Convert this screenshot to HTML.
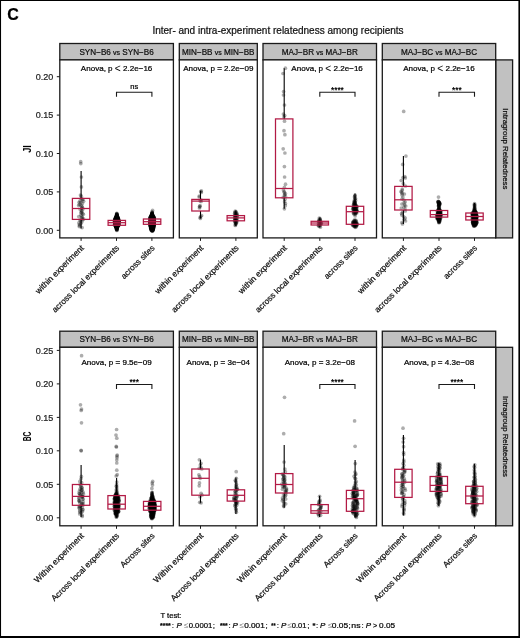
<!DOCTYPE html><html><head><meta charset="utf-8"><style>html,body{margin:0;padding:0;background:#fff;} .w{will-change:transform;}svg{display:block;} text{stroke:#000;stroke-width:0.22px;} .ng{stroke:none;} text{font-family:"Liberation Sans", sans-serif;}</style></head><body>
<div class="w"><svg width="520" height="638" viewBox="0 0 520 638">
<rect x="0" y="0" width="520" height="638" fill="#fff"/>
<text x="7.3" y="19.9" font-size="16.00" text-anchor="start" fill="#000" font-weight="bold">C</text>
<text x="278.0" y="33.9" font-size="10.00" text-anchor="middle" fill="#1a1a1a" >Inter- and intra-experiment relatedness among recipients</text>
<rect x="59.8" y="43.5" width="113.6" height="16.4" fill="#c1c1c1" stroke="#1a1a1a" stroke-width="1.3"/>
<text x="116.6" y="54.6" font-size="8.15" text-anchor="middle" fill="#1a1a1a" >SYN−B6 <tspan font-size="7">vs</tspan> SYN−B6</text>
<rect x="179.3" y="43.5" width="78.0" height="16.4" fill="#c1c1c1" stroke="#1a1a1a" stroke-width="1.3"/>
<text x="218.3" y="54.6" font-size="8.15" text-anchor="middle" fill="#1a1a1a" >MIN−BB <tspan font-size="7">vs</tspan> MIN−BB</text>
<rect x="263.0" y="43.5" width="113.5" height="16.4" fill="#c1c1c1" stroke="#1a1a1a" stroke-width="1.3"/>
<text x="319.8" y="54.6" font-size="8.15" text-anchor="middle" fill="#1a1a1a" >MAJ−BR <tspan font-size="7">vs</tspan> MAJ−BR</text>
<rect x="382.3" y="43.5" width="113.4" height="16.4" fill="#c1c1c1" stroke="#1a1a1a" stroke-width="1.3"/>
<text x="439.0" y="54.6" font-size="8.15" text-anchor="middle" fill="#1a1a1a" >MAJ−BC <tspan font-size="7">vs</tspan> MAJ−BC</text>
<rect x="495.7" y="59.9" width="16.9" height="178.0" fill="#c1c1c1" stroke="#1a1a1a" stroke-width="1.3"/>
<text x="0" y="0" font-size="7.8" text-anchor="middle" fill="#1a1a1a" transform="translate(502.8 148.9) rotate(90)">Intragroup Relatedness</text>
<rect x="59.8" y="59.9" width="113.6" height="178.0" fill="#fff"/>
<g fill="#000" fill-opacity="0.32">
<circle cx="81.3" cy="196.2" r="1.85"/>
<circle cx="82.0" cy="210.9" r="1.85"/>
<circle cx="81.4" cy="186.9" r="1.85"/>
<circle cx="78.7" cy="205.6" r="1.85"/>
<circle cx="82.1" cy="217.6" r="1.85"/>
<circle cx="80.9" cy="212.9" r="1.85"/>
<circle cx="82.4" cy="203.5" r="1.85"/>
<circle cx="81.0" cy="205.4" r="1.85"/>
<circle cx="79.3" cy="226.6" r="1.85"/>
<circle cx="82.9" cy="208.9" r="1.85"/>
<circle cx="80.0" cy="220.1" r="1.85"/>
<circle cx="82.4" cy="207.4" r="1.85"/>
<circle cx="82.3" cy="199.9" r="1.85"/>
<circle cx="79.6" cy="224.4" r="1.85"/>
<circle cx="80.2" cy="209.6" r="1.85"/>
<circle cx="79.1" cy="202.3" r="1.85"/>
<circle cx="80.9" cy="223.6" r="1.85"/>
<circle cx="82.7" cy="213.6" r="1.85"/>
<circle cx="81.9" cy="206.4" r="1.85"/>
<circle cx="81.4" cy="177.0" r="1.85"/>
<circle cx="80.7" cy="161.7" r="1.85"/>
<circle cx="81.8" cy="218.3" r="1.85"/>
<circle cx="80.5" cy="220.9" r="1.85"/>
<circle cx="82.7" cy="219.7" r="1.85"/>
<circle cx="82.1" cy="227.6" r="1.85"/>
<circle cx="80.5" cy="195.1" r="1.85"/>
<circle cx="81.2" cy="198.6" r="1.85"/>
<circle cx="80.0" cy="200.9" r="1.85"/>
<circle cx="79.3" cy="204.4" r="1.85"/>
<circle cx="79.5" cy="225.6" r="1.85"/>
<circle cx="81.5" cy="211.0" r="1.85"/>
<circle cx="81.5" cy="212.5" r="1.85"/>
<circle cx="81.0" cy="215.2" r="1.85"/>
<circle cx="78.8" cy="222.9" r="1.85"/>
<circle cx="81.9" cy="216.3" r="1.85"/>
<circle cx="83.6" cy="201.3" r="1.85"/>
<circle cx="81.5" cy="208.4" r="1.85"/>
<circle cx="81.9" cy="221.8" r="1.85"/>
<circle cx="80.8" cy="163.6" r="1.85"/>
<circle cx="78.8" cy="216.6" r="1.85"/>
<circle cx="80.7" cy="202.7" r="1.85"/>
<circle cx="82.9" cy="199.4" r="1.85"/>
<circle cx="83.6" cy="218.9" r="1.85"/>
<circle cx="83.3" cy="214.3" r="1.85"/>
</g>
<path d="M81.1 171.0V198.4M81.1 219.4V228.5" stroke="#000" stroke-width="1.10" fill="none"/>
<rect x="72.4" y="198.4" width="17.4" height="21.0" fill="none" stroke="#b21a45" stroke-width="1.25"/>
<path d="M72.4 208.5H89.8" stroke="#b21a45" stroke-width="1.25"/>
<g fill="#000" fill-opacity="0.32">
<circle cx="116.5" cy="227.8" r="1.85"/>
<circle cx="117.5" cy="218.0" r="1.85"/>
<circle cx="115.8" cy="221.8" r="1.85"/>
<circle cx="116.5" cy="219.8" r="1.85"/>
<circle cx="115.1" cy="219.5" r="1.85"/>
<circle cx="118.5" cy="220.0" r="1.85"/>
<circle cx="116.6" cy="215.8" r="1.85"/>
<circle cx="118.7" cy="220.8" r="1.85"/>
<circle cx="116.7" cy="219.5" r="1.85"/>
<circle cx="115.9" cy="225.1" r="1.85"/>
<circle cx="117.6" cy="226.1" r="1.85"/>
<circle cx="116.9" cy="228.6" r="1.85"/>
<circle cx="116.8" cy="220.2" r="1.85"/>
<circle cx="118.0" cy="219.7" r="1.85"/>
<circle cx="117.1" cy="221.3" r="1.85"/>
<circle cx="117.1" cy="219.9" r="1.85"/>
<circle cx="117.0" cy="219.2" r="1.85"/>
<circle cx="117.2" cy="225.6" r="1.85"/>
<circle cx="115.7" cy="224.1" r="1.85"/>
<circle cx="117.7" cy="223.1" r="1.85"/>
<circle cx="117.4" cy="216.6" r="1.85"/>
<circle cx="115.0" cy="223.9" r="1.85"/>
<circle cx="118.2" cy="218.9" r="1.85"/>
<circle cx="119.0" cy="221.8" r="1.85"/>
<circle cx="116.7" cy="220.9" r="1.85"/>
<circle cx="116.2" cy="222.3" r="1.85"/>
<circle cx="116.1" cy="226.3" r="1.85"/>
<circle cx="114.9" cy="223.6" r="1.85"/>
<circle cx="116.8" cy="215.7" r="1.85"/>
<circle cx="115.3" cy="225.1" r="1.85"/>
<circle cx="115.2" cy="221.0" r="1.85"/>
<circle cx="116.2" cy="222.2" r="1.85"/>
<circle cx="116.9" cy="221.9" r="1.85"/>
<circle cx="116.5" cy="223.5" r="1.85"/>
<circle cx="117.4" cy="216.6" r="1.85"/>
<circle cx="115.5" cy="218.3" r="1.85"/>
<circle cx="116.7" cy="219.1" r="1.85"/>
<circle cx="115.4" cy="222.6" r="1.85"/>
<circle cx="116.6" cy="218.6" r="1.85"/>
<circle cx="115.7" cy="225.1" r="1.85"/>
<circle cx="116.8" cy="214.4" r="1.85"/>
<circle cx="116.2" cy="224.2" r="1.85"/>
<circle cx="116.3" cy="217.8" r="1.85"/>
<circle cx="116.6" cy="224.0" r="1.85"/>
<circle cx="117.9" cy="220.2" r="1.85"/>
<circle cx="118.2" cy="224.2" r="1.85"/>
<circle cx="116.4" cy="217.8" r="1.85"/>
<circle cx="117.6" cy="218.3" r="1.85"/>
<circle cx="118.3" cy="223.4" r="1.85"/>
<circle cx="115.0" cy="221.5" r="1.85"/>
<circle cx="116.6" cy="219.7" r="1.85"/>
<circle cx="116.4" cy="225.4" r="1.85"/>
<circle cx="118.0" cy="225.2" r="1.85"/>
<circle cx="115.0" cy="223.5" r="1.85"/>
<circle cx="115.7" cy="221.6" r="1.85"/>
<circle cx="117.8" cy="223.4" r="1.85"/>
<circle cx="116.8" cy="228.0" r="1.85"/>
<circle cx="116.5" cy="217.2" r="1.85"/>
<circle cx="116.5" cy="229.0" r="1.85"/>
<circle cx="114.9" cy="221.2" r="1.85"/>
<circle cx="117.1" cy="223.7" r="1.85"/>
<circle cx="114.9" cy="222.5" r="1.85"/>
<circle cx="116.9" cy="226.8" r="1.85"/>
<circle cx="116.6" cy="229.5" r="1.85"/>
<circle cx="114.8" cy="224.5" r="1.85"/>
<circle cx="116.6" cy="216.9" r="1.85"/>
<circle cx="116.9" cy="223.4" r="1.85"/>
<circle cx="116.8" cy="225.3" r="1.85"/>
<circle cx="117.3" cy="227.4" r="1.85"/>
<circle cx="117.0" cy="219.8" r="1.85"/>
<circle cx="118.6" cy="222.8" r="1.85"/>
<circle cx="116.3" cy="220.1" r="1.85"/>
<circle cx="116.5" cy="225.5" r="1.85"/>
<circle cx="117.7" cy="223.1" r="1.85"/>
<circle cx="115.6" cy="221.0" r="1.85"/>
<circle cx="116.4" cy="228.5" r="1.85"/>
<circle cx="118.3" cy="224.7" r="1.85"/>
<circle cx="116.4" cy="227.2" r="1.85"/>
<circle cx="118.0" cy="225.9" r="1.85"/>
<circle cx="117.6" cy="224.5" r="1.85"/>
<circle cx="118.2" cy="224.9" r="1.85"/>
<circle cx="116.5" cy="221.5" r="1.85"/>
<circle cx="118.4" cy="225.8" r="1.85"/>
<circle cx="116.6" cy="220.9" r="1.85"/>
<circle cx="117.5" cy="223.3" r="1.85"/>
<circle cx="116.5" cy="228.1" r="1.85"/>
<circle cx="118.5" cy="223.6" r="1.85"/>
<circle cx="118.3" cy="219.1" r="1.85"/>
<circle cx="116.6" cy="216.1" r="1.85"/>
<circle cx="117.4" cy="225.4" r="1.85"/>
<circle cx="118.0" cy="223.8" r="1.85"/>
<circle cx="116.5" cy="220.6" r="1.85"/>
<circle cx="116.5" cy="218.2" r="1.85"/>
<circle cx="116.1" cy="224.4" r="1.85"/>
<circle cx="116.4" cy="219.3" r="1.85"/>
<circle cx="117.0" cy="217.0" r="1.85"/>
<circle cx="115.5" cy="225.5" r="1.85"/>
<circle cx="115.9" cy="221.6" r="1.85"/>
<circle cx="116.8" cy="220.8" r="1.85"/>
<circle cx="117.0" cy="221.7" r="1.85"/>
<circle cx="116.0" cy="220.5" r="1.85"/>
<circle cx="118.8" cy="221.6" r="1.85"/>
<circle cx="116.5" cy="225.7" r="1.85"/>
<circle cx="117.8" cy="224.8" r="1.85"/>
<circle cx="115.1" cy="220.6" r="1.85"/>
<circle cx="118.9" cy="220.7" r="1.85"/>
<circle cx="116.2" cy="226.2" r="1.85"/>
<circle cx="116.0" cy="218.0" r="1.85"/>
<circle cx="114.9" cy="223.6" r="1.85"/>
<circle cx="118.4" cy="218.6" r="1.85"/>
<circle cx="117.9" cy="224.5" r="1.85"/>
<circle cx="115.7" cy="225.8" r="1.85"/>
<circle cx="114.8" cy="222.9" r="1.85"/>
<circle cx="115.0" cy="220.4" r="1.85"/>
<circle cx="118.0" cy="220.7" r="1.85"/>
<circle cx="115.8" cy="225.7" r="1.85"/>
<circle cx="117.5" cy="220.5" r="1.85"/>
<circle cx="118.8" cy="224.7" r="1.85"/>
<circle cx="116.7" cy="214.0" r="1.85"/>
<circle cx="117.0" cy="214.7" r="1.85"/>
<circle cx="116.9" cy="221.4" r="1.85"/>
<circle cx="117.0" cy="218.9" r="1.85"/>
<circle cx="116.2" cy="224.4" r="1.85"/>
<circle cx="117.9" cy="218.3" r="1.85"/>
<circle cx="116.9" cy="227.6" r="1.85"/>
<circle cx="116.1" cy="226.6" r="1.85"/>
<circle cx="118.2" cy="223.8" r="1.85"/>
<circle cx="117.7" cy="223.9" r="1.85"/>
<circle cx="116.1" cy="219.7" r="1.85"/>
<circle cx="116.0" cy="223.4" r="1.85"/>
<circle cx="116.7" cy="225.4" r="1.85"/>
<circle cx="116.6" cy="217.3" r="1.85"/>
<circle cx="117.9" cy="224.0" r="1.85"/>
<circle cx="116.8" cy="215.1" r="1.85"/>
<circle cx="116.8" cy="213.3" r="1.85"/>
<circle cx="117.2" cy="223.0" r="1.85"/>
<circle cx="117.1" cy="227.7" r="1.85"/>
<circle cx="115.0" cy="221.1" r="1.85"/>
<circle cx="118.6" cy="220.4" r="1.85"/>
<circle cx="117.8" cy="218.8" r="1.85"/>
<circle cx="115.1" cy="221.3" r="1.85"/>
<circle cx="118.7" cy="225.0" r="1.85"/>
<circle cx="117.6" cy="226.1" r="1.85"/>
<circle cx="116.7" cy="225.9" r="1.85"/>
<circle cx="117.2" cy="222.9" r="1.85"/>
<circle cx="115.4" cy="219.1" r="1.85"/>
<circle cx="114.6" cy="225.0" r="1.85"/>
<circle cx="117.6" cy="217.3" r="1.85"/>
<circle cx="118.7" cy="220.8" r="1.85"/>
<circle cx="117.0" cy="229.4" r="1.85"/>
<circle cx="115.1" cy="223.2" r="1.85"/>
<circle cx="117.8" cy="221.4" r="1.85"/>
<circle cx="116.7" cy="224.0" r="1.85"/>
<circle cx="116.3" cy="226.7" r="1.85"/>
<circle cx="118.2" cy="220.6" r="1.85"/>
<circle cx="114.9" cy="222.1" r="1.85"/>
<circle cx="118.5" cy="225.7" r="1.85"/>
<circle cx="116.9" cy="220.9" r="1.85"/>
<circle cx="116.3" cy="220.5" r="1.85"/>
<circle cx="118.2" cy="220.7" r="1.85"/>
<circle cx="118.2" cy="219.9" r="1.85"/>
<circle cx="115.8" cy="219.3" r="1.85"/>
<circle cx="118.0" cy="221.5" r="1.85"/>
<circle cx="117.0" cy="215.6" r="1.85"/>
<circle cx="116.5" cy="220.5" r="1.85"/>
<circle cx="116.4" cy="216.9" r="1.85"/>
<circle cx="116.3" cy="226.7" r="1.85"/>
<circle cx="117.3" cy="217.6" r="1.85"/>
<circle cx="116.4" cy="225.3" r="1.85"/>
<circle cx="115.6" cy="225.9" r="1.85"/>
<circle cx="117.8" cy="218.7" r="1.85"/>
<circle cx="116.6" cy="223.1" r="1.85"/>
<circle cx="117.2" cy="217.5" r="1.85"/>
<circle cx="118.2" cy="219.6" r="1.85"/>
<circle cx="116.4" cy="227.9" r="1.85"/>
<circle cx="116.5" cy="217.9" r="1.85"/>
<circle cx="116.0" cy="227.0" r="1.85"/>
<circle cx="116.4" cy="219.4" r="1.85"/>
<circle cx="118.5" cy="219.0" r="1.85"/>
<circle cx="116.3" cy="227.6" r="1.85"/>
<circle cx="116.7" cy="222.8" r="1.85"/>
<circle cx="115.4" cy="222.1" r="1.85"/>
<circle cx="115.6" cy="218.5" r="1.85"/>
<circle cx="118.1" cy="221.0" r="1.85"/>
<circle cx="115.4" cy="218.0" r="1.85"/>
<circle cx="115.8" cy="220.1" r="1.85"/>
<circle cx="116.9" cy="220.3" r="1.85"/>
<circle cx="117.3" cy="218.5" r="1.85"/>
<circle cx="116.8" cy="217.3" r="1.85"/>
<circle cx="115.5" cy="220.0" r="1.85"/>
<circle cx="116.2" cy="218.6" r="1.85"/>
<circle cx="116.6" cy="222.6" r="1.85"/>
<circle cx="115.4" cy="225.6" r="1.85"/>
<circle cx="117.8" cy="217.4" r="1.85"/>
<circle cx="117.6" cy="225.1" r="1.85"/>
<circle cx="117.5" cy="222.1" r="1.85"/>
<circle cx="114.8" cy="224.2" r="1.85"/>
<circle cx="115.4" cy="219.2" r="1.85"/>
<circle cx="115.9" cy="226.6" r="1.85"/>
<circle cx="115.5" cy="218.1" r="1.85"/>
<circle cx="114.8" cy="222.9" r="1.85"/>
<circle cx="115.4" cy="221.6" r="1.85"/>
<circle cx="116.6" cy="217.5" r="1.85"/>
<circle cx="116.5" cy="218.7" r="1.85"/>
<circle cx="117.1" cy="220.2" r="1.85"/>
<circle cx="117.4" cy="224.1" r="1.85"/>
<circle cx="116.4" cy="217.9" r="1.85"/>
<circle cx="117.2" cy="216.8" r="1.85"/>
<circle cx="116.9" cy="228.1" r="1.85"/>
<circle cx="118.1" cy="221.7" r="1.85"/>
<circle cx="116.4" cy="223.0" r="1.85"/>
<circle cx="116.6" cy="224.2" r="1.85"/>
<circle cx="116.9" cy="228.7" r="1.85"/>
<circle cx="116.6" cy="214.8" r="1.85"/>
<circle cx="117.2" cy="225.3" r="1.85"/>
<circle cx="116.6" cy="226.4" r="1.85"/>
<circle cx="116.8" cy="230.5" r="1.85"/>
<circle cx="115.7" cy="219.4" r="1.85"/>
<circle cx="115.3" cy="223.3" r="1.85"/>
<circle cx="118.5" cy="222.1" r="1.85"/>
<circle cx="117.2" cy="215.6" r="1.85"/>
<circle cx="116.8" cy="216.3" r="1.85"/>
<circle cx="115.4" cy="224.3" r="1.85"/>
<circle cx="115.6" cy="221.9" r="1.85"/>
<circle cx="118.3" cy="225.2" r="1.85"/>
<circle cx="117.2" cy="224.6" r="1.85"/>
<circle cx="114.7" cy="221.9" r="1.85"/>
<circle cx="118.8" cy="224.4" r="1.85"/>
<circle cx="116.4" cy="217.1" r="1.85"/>
<circle cx="114.6" cy="221.3" r="1.85"/>
<circle cx="116.0" cy="223.2" r="1.85"/>
<circle cx="116.7" cy="215.3" r="1.85"/>
<circle cx="117.4" cy="221.4" r="1.85"/>
<circle cx="118.4" cy="220.4" r="1.85"/>
<circle cx="118.1" cy="220.4" r="1.85"/>
<circle cx="118.1" cy="224.9" r="1.85"/>
<circle cx="118.3" cy="222.5" r="1.85"/>
<circle cx="116.6" cy="216.5" r="1.85"/>
<circle cx="115.0" cy="224.8" r="1.85"/>
<circle cx="115.7" cy="219.8" r="1.85"/>
<circle cx="116.0" cy="224.0" r="1.85"/>
<circle cx="117.0" cy="228.3" r="1.85"/>
<circle cx="116.8" cy="216.0" r="1.85"/>
<circle cx="116.8" cy="225.0" r="1.85"/>
<circle cx="116.8" cy="219.6" r="1.85"/>
<circle cx="115.5" cy="220.1" r="1.85"/>
<circle cx="118.0" cy="224.8" r="1.85"/>
<circle cx="116.6" cy="229.2" r="1.85"/>
<circle cx="115.0" cy="222.7" r="1.85"/>
<circle cx="114.6" cy="220.0" r="1.85"/>
<circle cx="117.4" cy="227.1" r="1.85"/>
<circle cx="118.2" cy="224.7" r="1.85"/>
<circle cx="118.4" cy="221.1" r="1.85"/>
<circle cx="115.6" cy="222.2" r="1.85"/>
<circle cx="116.2" cy="219.9" r="1.85"/>
<circle cx="117.9" cy="220.1" r="1.85"/>
<circle cx="116.7" cy="223.4" r="1.85"/>
<circle cx="118.0" cy="223.7" r="1.85"/>
<circle cx="116.8" cy="213.7" r="1.85"/>
<circle cx="116.8" cy="215.4" r="1.85"/>
<circle cx="115.9" cy="219.3" r="1.85"/>
<circle cx="114.7" cy="223.0" r="1.85"/>
<circle cx="115.4" cy="223.9" r="1.85"/>
<circle cx="115.4" cy="223.1" r="1.85"/>
<circle cx="116.4" cy="222.0" r="1.85"/>
<circle cx="114.8" cy="224.3" r="1.85"/>
<circle cx="118.6" cy="222.8" r="1.85"/>
<circle cx="117.6" cy="220.3" r="1.85"/>
<circle cx="116.7" cy="226.9" r="1.85"/>
<circle cx="117.4" cy="222.7" r="1.85"/>
<circle cx="118.3" cy="221.1" r="1.85"/>
<circle cx="114.9" cy="223.2" r="1.85"/>
<circle cx="117.7" cy="222.3" r="1.85"/>
<circle cx="118.1" cy="218.3" r="1.85"/>
<circle cx="114.7" cy="221.4" r="1.85"/>
<circle cx="116.3" cy="216.2" r="1.85"/>
<circle cx="114.9" cy="224.7" r="1.85"/>
<circle cx="117.6" cy="219.5" r="1.85"/>
<circle cx="116.2" cy="220.3" r="1.85"/>
<circle cx="116.4" cy="218.8" r="1.85"/>
<circle cx="116.1" cy="218.4" r="1.85"/>
<circle cx="118.3" cy="221.8" r="1.85"/>
<circle cx="116.6" cy="225.2" r="1.85"/>
<circle cx="116.2" cy="226.2" r="1.85"/>
<circle cx="117.4" cy="224.1" r="1.85"/>
<circle cx="115.9" cy="222.4" r="1.85"/>
<circle cx="117.4" cy="216.3" r="1.85"/>
<circle cx="115.3" cy="219.8" r="1.85"/>
<circle cx="117.8" cy="219.3" r="1.85"/>
<circle cx="119.0" cy="223.5" r="1.85"/>
<circle cx="116.0" cy="226.4" r="1.85"/>
<circle cx="116.9" cy="226.0" r="1.85"/>
<circle cx="116.0" cy="219.9" r="1.85"/>
<circle cx="115.5" cy="225.4" r="1.85"/>
<circle cx="116.6" cy="217.6" r="1.85"/>
<circle cx="116.8" cy="222.3" r="1.85"/>
<circle cx="116.1" cy="216.8" r="1.85"/>
<circle cx="118.0" cy="221.2" r="1.85"/>
<circle cx="116.9" cy="228.3" r="1.85"/>
<circle cx="117.4" cy="216.4" r="1.85"/>
<circle cx="115.3" cy="218.4" r="1.85"/>
<circle cx="118.9" cy="221.0" r="1.85"/>
<circle cx="114.9" cy="219.6" r="1.85"/>
<circle cx="116.3" cy="223.7" r="1.85"/>
<circle cx="116.5" cy="222.2" r="1.85"/>
<circle cx="116.1" cy="218.1" r="1.85"/>
<circle cx="116.0" cy="217.1" r="1.85"/>
<circle cx="117.0" cy="225.5" r="1.85"/>
<circle cx="116.4" cy="224.1" r="1.85"/>
<circle cx="116.5" cy="219.0" r="1.85"/>
<circle cx="116.0" cy="227.0" r="1.85"/>
<circle cx="114.6" cy="221.7" r="1.85"/>
<circle cx="115.1" cy="218.8" r="1.85"/>
<circle cx="118.5" cy="219.2" r="1.85"/>
<circle cx="117.0" cy="223.9" r="1.85"/>
<circle cx="117.5" cy="222.0" r="1.85"/>
<circle cx="118.7" cy="224.9" r="1.85"/>
<circle cx="116.5" cy="217.7" r="1.85"/>
<circle cx="116.7" cy="227.2" r="1.85"/>
<circle cx="117.8" cy="218.7" r="1.85"/>
<circle cx="117.8" cy="224.6" r="1.85"/>
<circle cx="116.9" cy="229.8" r="1.85"/>
<circle cx="116.7" cy="214.9" r="1.85"/>
<circle cx="117.3" cy="218.5" r="1.85"/>
<circle cx="116.6" cy="227.3" r="1.85"/>
<circle cx="115.4" cy="223.3" r="1.85"/>
<circle cx="116.3" cy="226.5" r="1.85"/>
<circle cx="115.2" cy="224.9" r="1.85"/>
<circle cx="116.2" cy="226.3" r="1.85"/>
<circle cx="116.5" cy="227.5" r="1.85"/>
<circle cx="117.9" cy="218.2" r="1.85"/>
<circle cx="117.3" cy="222.8" r="1.85"/>
<circle cx="115.2" cy="219.0" r="1.85"/>
<circle cx="118.7" cy="222.9" r="1.85"/>
<circle cx="116.8" cy="214.2" r="1.85"/>
<circle cx="116.7" cy="228.8" r="1.85"/>
<circle cx="116.8" cy="222.5" r="1.85"/>
<circle cx="117.8" cy="222.3" r="1.85"/>
<circle cx="117.4" cy="219.5" r="1.85"/>
<circle cx="117.6" cy="226.0" r="1.85"/>
<circle cx="117.0" cy="221.9" r="1.85"/>
<circle cx="116.9" cy="215.1" r="1.85"/>
<circle cx="116.1" cy="226.9" r="1.85"/>
<circle cx="115.7" cy="222.7" r="1.85"/>
<circle cx="116.0" cy="221.8" r="1.85"/>
<circle cx="116.6" cy="224.8" r="1.85"/>
<circle cx="116.7" cy="229.1" r="1.85"/>
<circle cx="116.2" cy="216.7" r="1.85"/>
<circle cx="118.5" cy="222.7" r="1.85"/>
<circle cx="117.7" cy="221.1" r="1.85"/>
<circle cx="117.7" cy="226.5" r="1.85"/>
<circle cx="114.9" cy="220.8" r="1.85"/>
<circle cx="116.9" cy="230.0" r="1.85"/>
<circle cx="118.9" cy="220.6" r="1.85"/>
<circle cx="114.6" cy="222.4" r="1.85"/>
<circle cx="117.3" cy="219.0" r="1.85"/>
<circle cx="116.2" cy="226.2" r="1.85"/>
<circle cx="115.8" cy="217.7" r="1.85"/>
<circle cx="117.3" cy="224.4" r="1.85"/>
<circle cx="116.0" cy="225.9" r="1.85"/>
<circle cx="115.7" cy="218.9" r="1.85"/>
<circle cx="115.9" cy="224.6" r="1.85"/>
<circle cx="116.2" cy="226.5" r="1.85"/>
<circle cx="116.3" cy="222.4" r="1.85"/>
<circle cx="118.0" cy="217.9" r="1.85"/>
<circle cx="115.5" cy="222.5" r="1.85"/>
<circle cx="117.0" cy="217.0" r="1.85"/>
<circle cx="116.4" cy="223.6" r="1.85"/>
<circle cx="118.7" cy="224.5" r="1.85"/>
<circle cx="115.9" cy="223.8" r="1.85"/>
<circle cx="116.4" cy="215.9" r="1.85"/>
<circle cx="117.0" cy="219.6" r="1.85"/>
<circle cx="116.0" cy="217.4" r="1.85"/>
<circle cx="118.6" cy="221.2" r="1.85"/>
<circle cx="115.3" cy="225.6" r="1.85"/>
<circle cx="117.5" cy="219.4" r="1.85"/>
<circle cx="114.8" cy="222.0" r="1.85"/>
<circle cx="117.1" cy="226.9" r="1.85"/>
<circle cx="118.0" cy="222.6" r="1.85"/>
<circle cx="118.9" cy="221.4" r="1.85"/>
</g>
<path d="M116.8 213.5V220.4M116.8 225.3V230.6" stroke="#000" stroke-width="1.10" fill="none"/>
<rect x="113.2" y="220.4" width="7.2" height="4.9" fill="#b21a45" fill-opacity="0.55"/>
<rect x="108.1" y="220.4" width="17.4" height="4.9" fill="none" stroke="#b21a45" stroke-width="1.25"/>
<path d="M108.1 222.7H125.5" stroke="#b21a45" stroke-width="1.25"/>
<g fill="#000" fill-opacity="0.32">
<circle cx="151.5" cy="223.8" r="1.85"/>
<circle cx="151.1" cy="226.1" r="1.85"/>
<circle cx="151.9" cy="214.9" r="1.85"/>
<circle cx="151.6" cy="218.6" r="1.85"/>
<circle cx="152.3" cy="220.8" r="1.85"/>
<circle cx="152.5" cy="229.8" r="1.85"/>
<circle cx="150.8" cy="222.5" r="1.85"/>
<circle cx="154.2" cy="220.6" r="1.85"/>
<circle cx="153.4" cy="220.3" r="1.85"/>
<circle cx="151.6" cy="216.2" r="1.85"/>
<circle cx="152.4" cy="222.6" r="1.85"/>
<circle cx="150.0" cy="222.3" r="1.85"/>
<circle cx="150.4" cy="217.3" r="1.85"/>
<circle cx="154.0" cy="222.7" r="1.85"/>
<circle cx="151.4" cy="215.7" r="1.85"/>
<circle cx="153.8" cy="217.4" r="1.85"/>
<circle cx="150.6" cy="220.2" r="1.85"/>
<circle cx="153.7" cy="222.0" r="1.85"/>
<circle cx="150.1" cy="218.4" r="1.85"/>
<circle cx="150.3" cy="221.8" r="1.85"/>
<circle cx="151.5" cy="224.7" r="1.85"/>
<circle cx="153.3" cy="224.3" r="1.85"/>
<circle cx="151.1" cy="227.0" r="1.85"/>
<circle cx="154.2" cy="219.0" r="1.85"/>
<circle cx="151.9" cy="219.3" r="1.85"/>
<circle cx="153.4" cy="220.9" r="1.85"/>
<circle cx="151.4" cy="223.0" r="1.85"/>
<circle cx="151.5" cy="222.2" r="1.85"/>
<circle cx="151.2" cy="218.1" r="1.85"/>
<circle cx="152.2" cy="221.5" r="1.85"/>
<circle cx="151.9" cy="227.4" r="1.85"/>
<circle cx="152.5" cy="219.6" r="1.85"/>
<circle cx="152.2" cy="211.9" r="1.85"/>
<circle cx="151.8" cy="230.1" r="1.85"/>
<circle cx="152.3" cy="212.8" r="1.85"/>
<circle cx="153.0" cy="228.9" r="1.85"/>
<circle cx="152.3" cy="229.9" r="1.85"/>
<circle cx="153.1" cy="216.3" r="1.85"/>
<circle cx="152.0" cy="219.2" r="1.85"/>
<circle cx="152.4" cy="218.2" r="1.85"/>
<circle cx="152.6" cy="228.5" r="1.85"/>
<circle cx="152.4" cy="230.7" r="1.85"/>
<circle cx="151.0" cy="227.9" r="1.85"/>
<circle cx="152.3" cy="231.0" r="1.85"/>
<circle cx="150.5" cy="217.0" r="1.85"/>
<circle cx="152.3" cy="221.3" r="1.85"/>
<circle cx="149.9" cy="224.5" r="1.85"/>
<circle cx="151.2" cy="229.5" r="1.85"/>
<circle cx="151.9" cy="227.6" r="1.85"/>
<circle cx="151.1" cy="219.3" r="1.85"/>
<circle cx="152.1" cy="227.4" r="1.85"/>
<circle cx="152.5" cy="218.6" r="1.85"/>
<circle cx="150.0" cy="223.1" r="1.85"/>
<circle cx="153.9" cy="225.5" r="1.85"/>
<circle cx="151.2" cy="228.6" r="1.85"/>
<circle cx="151.5" cy="223.2" r="1.85"/>
<circle cx="154.3" cy="217.6" r="1.85"/>
<circle cx="152.1" cy="220.7" r="1.85"/>
<circle cx="153.2" cy="228.9" r="1.85"/>
<circle cx="150.5" cy="218.1" r="1.85"/>
<circle cx="152.1" cy="213.3" r="1.85"/>
<circle cx="151.3" cy="225.7" r="1.85"/>
<circle cx="150.6" cy="225.1" r="1.85"/>
<circle cx="153.1" cy="216.8" r="1.85"/>
<circle cx="151.4" cy="215.3" r="1.85"/>
<circle cx="149.9" cy="221.3" r="1.85"/>
<circle cx="152.4" cy="228.2" r="1.85"/>
<circle cx="151.6" cy="223.0" r="1.85"/>
<circle cx="151.1" cy="222.4" r="1.85"/>
<circle cx="150.0" cy="223.1" r="1.85"/>
<circle cx="154.0" cy="217.1" r="1.85"/>
<circle cx="151.6" cy="221.3" r="1.85"/>
<circle cx="152.4" cy="215.2" r="1.85"/>
<circle cx="153.8" cy="222.5" r="1.85"/>
<circle cx="153.2" cy="224.3" r="1.85"/>
<circle cx="151.0" cy="222.0" r="1.85"/>
<circle cx="152.9" cy="217.5" r="1.85"/>
<circle cx="153.3" cy="220.0" r="1.85"/>
<circle cx="151.5" cy="228.7" r="1.85"/>
<circle cx="152.4" cy="214.4" r="1.85"/>
<circle cx="153.9" cy="223.3" r="1.85"/>
<circle cx="150.8" cy="217.6" r="1.85"/>
<circle cx="151.8" cy="213.9" r="1.85"/>
<circle cx="153.3" cy="219.2" r="1.85"/>
<circle cx="150.8" cy="221.7" r="1.85"/>
<circle cx="152.2" cy="216.7" r="1.85"/>
<circle cx="153.1" cy="226.9" r="1.85"/>
<circle cx="150.8" cy="224.5" r="1.85"/>
<circle cx="151.3" cy="222.3" r="1.85"/>
<circle cx="152.8" cy="230.0" r="1.85"/>
<circle cx="152.0" cy="217.3" r="1.85"/>
<circle cx="151.1" cy="229.3" r="1.85"/>
<circle cx="152.3" cy="226.7" r="1.85"/>
<circle cx="150.0" cy="218.4" r="1.85"/>
<circle cx="152.2" cy="228.9" r="1.85"/>
<circle cx="153.6" cy="218.8" r="1.85"/>
<circle cx="153.7" cy="217.6" r="1.85"/>
<circle cx="151.0" cy="219.9" r="1.85"/>
<circle cx="150.6" cy="223.9" r="1.85"/>
<circle cx="153.7" cy="226.0" r="1.85"/>
<circle cx="150.8" cy="221.7" r="1.85"/>
<circle cx="151.9" cy="226.4" r="1.85"/>
<circle cx="152.5" cy="221.2" r="1.85"/>
<circle cx="153.1" cy="220.9" r="1.85"/>
<circle cx="152.9" cy="228.4" r="1.85"/>
<circle cx="150.3" cy="222.4" r="1.85"/>
<circle cx="154.0" cy="221.2" r="1.85"/>
<circle cx="152.6" cy="225.3" r="1.85"/>
<circle cx="150.5" cy="225.7" r="1.85"/>
<circle cx="151.6" cy="224.8" r="1.85"/>
<circle cx="152.7" cy="217.1" r="1.85"/>
<circle cx="151.6" cy="221.1" r="1.85"/>
<circle cx="153.8" cy="219.6" r="1.85"/>
<circle cx="153.2" cy="224.5" r="1.85"/>
<circle cx="151.0" cy="225.7" r="1.85"/>
<circle cx="150.2" cy="226.2" r="1.85"/>
<circle cx="153.5" cy="219.2" r="1.85"/>
<circle cx="151.1" cy="222.7" r="1.85"/>
<circle cx="153.4" cy="216.6" r="1.85"/>
<circle cx="151.0" cy="228.1" r="1.85"/>
<circle cx="150.7" cy="228.7" r="1.85"/>
<circle cx="152.1" cy="214.2" r="1.85"/>
<circle cx="151.2" cy="215.9" r="1.85"/>
<circle cx="153.1" cy="227.6" r="1.85"/>
<circle cx="151.5" cy="225.8" r="1.85"/>
<circle cx="152.5" cy="222.6" r="1.85"/>
<circle cx="152.6" cy="222.4" r="1.85"/>
<circle cx="151.8" cy="224.6" r="1.85"/>
<circle cx="152.7" cy="223.4" r="1.85"/>
<circle cx="151.8" cy="216.8" r="1.85"/>
<circle cx="153.2" cy="218.0" r="1.85"/>
<circle cx="151.4" cy="219.4" r="1.85"/>
<circle cx="153.7" cy="223.8" r="1.85"/>
<circle cx="151.6" cy="220.9" r="1.85"/>
<circle cx="150.1" cy="221.4" r="1.85"/>
<circle cx="152.6" cy="227.4" r="1.85"/>
<circle cx="150.4" cy="222.9" r="1.85"/>
<circle cx="151.1" cy="220.2" r="1.85"/>
<circle cx="153.1" cy="218.9" r="1.85"/>
<circle cx="153.3" cy="228.3" r="1.85"/>
<circle cx="154.0" cy="217.9" r="1.85"/>
<circle cx="151.0" cy="221.6" r="1.85"/>
<circle cx="152.0" cy="224.3" r="1.85"/>
<circle cx="153.2" cy="226.6" r="1.85"/>
<circle cx="153.1" cy="225.9" r="1.85"/>
<circle cx="152.6" cy="218.8" r="1.85"/>
<circle cx="151.9" cy="215.8" r="1.85"/>
<circle cx="151.4" cy="225.8" r="1.85"/>
<circle cx="151.3" cy="221.6" r="1.85"/>
<circle cx="150.7" cy="216.4" r="1.85"/>
<circle cx="152.3" cy="220.6" r="1.85"/>
<circle cx="152.5" cy="222.8" r="1.85"/>
<circle cx="150.6" cy="226.4" r="1.85"/>
<circle cx="151.9" cy="225.9" r="1.85"/>
<circle cx="150.5" cy="227.8" r="1.85"/>
<circle cx="154.0" cy="223.4" r="1.85"/>
<circle cx="151.5" cy="229.6" r="1.85"/>
<circle cx="152.0" cy="212.4" r="1.85"/>
<circle cx="151.1" cy="227.1" r="1.85"/>
<circle cx="154.1" cy="219.1" r="1.85"/>
<circle cx="153.0" cy="216.0" r="1.85"/>
<circle cx="153.0" cy="230.3" r="1.85"/>
<circle cx="150.9" cy="227.2" r="1.85"/>
<circle cx="152.3" cy="215.5" r="1.85"/>
<circle cx="151.7" cy="229.0" r="1.85"/>
<circle cx="151.0" cy="224.2" r="1.85"/>
<circle cx="153.7" cy="223.4" r="1.85"/>
<circle cx="150.1" cy="221.0" r="1.85"/>
<circle cx="150.3" cy="223.6" r="1.85"/>
<circle cx="151.8" cy="226.1" r="1.85"/>
<circle cx="151.2" cy="221.9" r="1.85"/>
<circle cx="150.1" cy="218.3" r="1.85"/>
<circle cx="150.6" cy="219.1" r="1.85"/>
<circle cx="150.6" cy="216.5" r="1.85"/>
<circle cx="151.2" cy="227.0" r="1.85"/>
<circle cx="153.9" cy="225.1" r="1.85"/>
<circle cx="152.5" cy="229.2" r="1.85"/>
<circle cx="152.6" cy="226.6" r="1.85"/>
<circle cx="151.7" cy="227.1" r="1.85"/>
<circle cx="154.0" cy="222.1" r="1.85"/>
<circle cx="153.2" cy="229.2" r="1.85"/>
<circle cx="152.9" cy="220.1" r="1.85"/>
<circle cx="152.7" cy="229.4" r="1.85"/>
<circle cx="151.6" cy="221.5" r="1.85"/>
<circle cx="152.5" cy="224.6" r="1.85"/>
<circle cx="153.8" cy="218.5" r="1.85"/>
<circle cx="154.3" cy="221.0" r="1.85"/>
<circle cx="150.3" cy="225.6" r="1.85"/>
<circle cx="153.8" cy="220.5" r="1.85"/>
<circle cx="152.3" cy="216.5" r="1.85"/>
<circle cx="153.3" cy="226.3" r="1.85"/>
<circle cx="152.1" cy="214.6" r="1.85"/>
<circle cx="150.3" cy="224.4" r="1.85"/>
<circle cx="152.4" cy="226.2" r="1.85"/>
<circle cx="151.9" cy="217.8" r="1.85"/>
<circle cx="152.0" cy="217.7" r="1.85"/>
<circle cx="154.2" cy="219.8" r="1.85"/>
<circle cx="152.9" cy="218.3" r="1.85"/>
<circle cx="154.3" cy="220.5" r="1.85"/>
<circle cx="152.1" cy="218.2" r="1.85"/>
<circle cx="153.5" cy="224.9" r="1.85"/>
<circle cx="152.4" cy="216.5" r="1.85"/>
<circle cx="152.9" cy="218.5" r="1.85"/>
<circle cx="152.1" cy="213.0" r="1.85"/>
<circle cx="152.0" cy="218.9" r="1.85"/>
<circle cx="152.6" cy="210.4" r="1.85"/>
<circle cx="151.3" cy="224.4" r="1.85"/>
<circle cx="154.1" cy="224.0" r="1.85"/>
<circle cx="151.9" cy="220.1" r="1.85"/>
<circle cx="152.5" cy="228.6" r="1.85"/>
<circle cx="152.6" cy="230.6" r="1.85"/>
<circle cx="154.0" cy="225.0" r="1.85"/>
<circle cx="154.0" cy="224.2" r="1.85"/>
<circle cx="152.0" cy="213.8" r="1.85"/>
<circle cx="153.3" cy="218.1" r="1.85"/>
<circle cx="154.3" cy="223.0" r="1.85"/>
<circle cx="153.1" cy="219.6" r="1.85"/>
<circle cx="152.6" cy="228.8" r="1.85"/>
<circle cx="150.9" cy="223.9" r="1.85"/>
<circle cx="153.0" cy="218.0" r="1.85"/>
<circle cx="150.9" cy="223.6" r="1.85"/>
<circle cx="153.5" cy="219.5" r="1.85"/>
<circle cx="151.1" cy="229.8" r="1.85"/>
<circle cx="153.4" cy="222.0" r="1.85"/>
<circle cx="150.5" cy="220.4" r="1.85"/>
<circle cx="154.1" cy="225.4" r="1.85"/>
<circle cx="151.3" cy="218.8" r="1.85"/>
<circle cx="153.8" cy="227.3" r="1.85"/>
<circle cx="151.2" cy="228.1" r="1.85"/>
<circle cx="153.4" cy="220.6" r="1.85"/>
<circle cx="153.9" cy="225.0" r="1.85"/>
<circle cx="152.5" cy="230.6" r="1.85"/>
<circle cx="152.1" cy="229.0" r="1.85"/>
<circle cx="153.0" cy="223.2" r="1.85"/>
<circle cx="152.2" cy="224.2" r="1.85"/>
<circle cx="151.6" cy="225.5" r="1.85"/>
<circle cx="150.2" cy="222.2" r="1.85"/>
<circle cx="151.3" cy="215.4" r="1.85"/>
<circle cx="151.9" cy="222.2" r="1.85"/>
<circle cx="153.2" cy="225.3" r="1.85"/>
<circle cx="151.3" cy="227.9" r="1.85"/>
<circle cx="153.2" cy="217.9" r="1.85"/>
<circle cx="153.2" cy="228.2" r="1.85"/>
<circle cx="150.4" cy="219.0" r="1.85"/>
<circle cx="154.1" cy="224.0" r="1.85"/>
<circle cx="152.0" cy="226.5" r="1.85"/>
<circle cx="154.0" cy="223.7" r="1.85"/>
<circle cx="151.1" cy="216.1" r="1.85"/>
<circle cx="150.9" cy="220.0" r="1.85"/>
<circle cx="150.9" cy="216.0" r="1.85"/>
<circle cx="153.2" cy="219.3" r="1.85"/>
<circle cx="151.2" cy="216.3" r="1.85"/>
<circle cx="151.6" cy="224.8" r="1.85"/>
<circle cx="151.3" cy="230.3" r="1.85"/>
<circle cx="152.0" cy="220.8" r="1.85"/>
<circle cx="152.8" cy="228.3" r="1.85"/>
<circle cx="152.1" cy="216.6" r="1.85"/>
<circle cx="153.3" cy="220.3" r="1.85"/>
<circle cx="153.1" cy="215.9" r="1.85"/>
<circle cx="152.6" cy="217.4" r="1.85"/>
<circle cx="153.2" cy="229.7" r="1.85"/>
<circle cx="153.5" cy="221.8" r="1.85"/>
<circle cx="151.2" cy="221.0" r="1.85"/>
<circle cx="152.3" cy="217.2" r="1.85"/>
<circle cx="153.3" cy="220.7" r="1.85"/>
<circle cx="151.8" cy="227.8" r="1.85"/>
<circle cx="149.9" cy="219.7" r="1.85"/>
<circle cx="150.3" cy="223.5" r="1.85"/>
<circle cx="152.2" cy="213.7" r="1.85"/>
<circle cx="153.6" cy="225.2" r="1.85"/>
<circle cx="153.3" cy="228.0" r="1.85"/>
<circle cx="152.5" cy="229.5" r="1.85"/>
<circle cx="152.8" cy="217.0" r="1.85"/>
<circle cx="151.8" cy="227.1" r="1.85"/>
<circle cx="151.1" cy="228.4" r="1.85"/>
<circle cx="154.0" cy="220.3" r="1.85"/>
<circle cx="151.6" cy="215.0" r="1.85"/>
<circle cx="152.7" cy="215.2" r="1.85"/>
<circle cx="151.0" cy="228.5" r="1.85"/>
<circle cx="153.1" cy="223.9" r="1.85"/>
<circle cx="152.1" cy="227.5" r="1.85"/>
<circle cx="150.8" cy="227.3" r="1.85"/>
<circle cx="152.4" cy="217.8" r="1.85"/>
<circle cx="152.6" cy="219.5" r="1.85"/>
<circle cx="152.9" cy="230.1" r="1.85"/>
<circle cx="151.8" cy="224.9" r="1.85"/>
<circle cx="150.6" cy="219.0" r="1.85"/>
<circle cx="153.0" cy="223.5" r="1.85"/>
<circle cx="152.2" cy="226.6" r="1.85"/>
<circle cx="152.7" cy="216.2" r="1.85"/>
<circle cx="154.2" cy="218.7" r="1.85"/>
<circle cx="151.9" cy="230.4" r="1.85"/>
<circle cx="152.1" cy="231.1" r="1.85"/>
<circle cx="153.7" cy="222.1" r="1.85"/>
<circle cx="152.0" cy="213.5" r="1.85"/>
<circle cx="153.6" cy="223.3" r="1.85"/>
<circle cx="151.6" cy="219.9" r="1.85"/>
<circle cx="151.5" cy="221.9" r="1.85"/>
<circle cx="153.6" cy="227.7" r="1.85"/>
<circle cx="153.4" cy="225.1" r="1.85"/>
<circle cx="151.5" cy="221.4" r="1.85"/>
<circle cx="152.9" cy="215.7" r="1.85"/>
<circle cx="151.8" cy="226.0" r="1.85"/>
<circle cx="151.8" cy="227.0" r="1.85"/>
<circle cx="152.3" cy="221.3" r="1.85"/>
<circle cx="150.7" cy="226.1" r="1.85"/>
<circle cx="151.3" cy="223.5" r="1.85"/>
<circle cx="153.6" cy="221.6" r="1.85"/>
<circle cx="153.6" cy="219.8" r="1.85"/>
<circle cx="152.6" cy="222.9" r="1.85"/>
<circle cx="152.1" cy="221.6" r="1.85"/>
<circle cx="152.1" cy="222.1" r="1.85"/>
<circle cx="152.5" cy="215.7" r="1.85"/>
<circle cx="150.3" cy="222.8" r="1.85"/>
<circle cx="152.3" cy="215.1" r="1.85"/>
<circle cx="151.5" cy="225.3" r="1.85"/>
<circle cx="153.9" cy="226.9" r="1.85"/>
<circle cx="153.4" cy="226.8" r="1.85"/>
<circle cx="152.0" cy="223.2" r="1.85"/>
<circle cx="150.8" cy="222.6" r="1.85"/>
<circle cx="151.5" cy="229.1" r="1.85"/>
<circle cx="153.8" cy="218.3" r="1.85"/>
<circle cx="151.9" cy="222.8" r="1.85"/>
<circle cx="150.1" cy="224.0" r="1.85"/>
<circle cx="151.3" cy="226.3" r="1.85"/>
<circle cx="151.5" cy="217.9" r="1.85"/>
<circle cx="151.6" cy="227.8" r="1.85"/>
<circle cx="152.8" cy="219.5" r="1.85"/>
<circle cx="153.7" cy="226.7" r="1.85"/>
<circle cx="154.1" cy="225.6" r="1.85"/>
<circle cx="151.1" cy="217.7" r="1.85"/>
<circle cx="153.6" cy="222.9" r="1.85"/>
<circle cx="152.2" cy="228.0" r="1.85"/>
<circle cx="151.8" cy="217.5" r="1.85"/>
<circle cx="153.2" cy="217.2" r="1.85"/>
<circle cx="150.5" cy="220.5" r="1.85"/>
<circle cx="151.5" cy="224.8" r="1.85"/>
<circle cx="150.7" cy="226.5" r="1.85"/>
<circle cx="152.8" cy="224.6" r="1.85"/>
<circle cx="150.0" cy="224.1" r="1.85"/>
<circle cx="149.9" cy="217.5" r="1.85"/>
<circle cx="151.2" cy="220.4" r="1.85"/>
<circle cx="152.4" cy="215.5" r="1.85"/>
<circle cx="152.6" cy="218.6" r="1.85"/>
<circle cx="152.8" cy="216.9" r="1.85"/>
<circle cx="152.4" cy="221.9" r="1.85"/>
<circle cx="152.2" cy="229.7" r="1.85"/>
<circle cx="152.1" cy="223.7" r="1.85"/>
<circle cx="150.5" cy="219.7" r="1.85"/>
<circle cx="150.2" cy="225.2" r="1.85"/>
<circle cx="152.3" cy="224.1" r="1.85"/>
<circle cx="151.1" cy="226.3" r="1.85"/>
<circle cx="151.4" cy="227.7" r="1.85"/>
<circle cx="150.7" cy="226.8" r="1.85"/>
<circle cx="151.9" cy="229.4" r="1.85"/>
<circle cx="151.3" cy="220.1" r="1.85"/>
<circle cx="154.1" cy="218.9" r="1.85"/>
<circle cx="151.8" cy="216.9" r="1.85"/>
<circle cx="151.7" cy="214.0" r="1.85"/>
<circle cx="152.2" cy="214.8" r="1.85"/>
<circle cx="150.8" cy="225.9" r="1.85"/>
<circle cx="151.5" cy="219.9" r="1.85"/>
<circle cx="153.0" cy="221.1" r="1.85"/>
<circle cx="152.5" cy="217.0" r="1.85"/>
<circle cx="154.0" cy="218.3" r="1.85"/>
<circle cx="151.3" cy="218.6" r="1.85"/>
<circle cx="153.3" cy="227.2" r="1.85"/>
<circle cx="151.1" cy="219.4" r="1.85"/>
<circle cx="153.2" cy="216.7" r="1.85"/>
<circle cx="152.5" cy="219.8" r="1.85"/>
<circle cx="152.4" cy="214.2" r="1.85"/>
<circle cx="150.4" cy="217.7" r="1.85"/>
<circle cx="150.1" cy="225.5" r="1.85"/>
<circle cx="153.3" cy="225.4" r="1.85"/>
<circle cx="151.6" cy="214.6" r="1.85"/>
<circle cx="152.0" cy="225.0" r="1.85"/>
<circle cx="150.7" cy="223.7" r="1.85"/>
<circle cx="152.0" cy="224.7" r="1.85"/>
<circle cx="151.7" cy="230.4" r="1.85"/>
<circle cx="150.7" cy="217.2" r="1.85"/>
<circle cx="152.3" cy="220.8" r="1.85"/>
</g>
<path d="M152.1 212.0V219.0M152.1 224.3V231.0" stroke="#000" stroke-width="1.10" fill="none"/>
<rect x="148.3" y="219.0" width="7.6" height="5.3" fill="#b21a45" fill-opacity="0.55"/>
<rect x="143.4" y="219.0" width="17.4" height="5.3" fill="none" stroke="#b21a45" stroke-width="1.25"/>
<path d="M143.4 221.7H160.8" stroke="#b21a45" stroke-width="1.25"/>
<rect x="59.8" y="59.9" width="113.6" height="178.0" fill="none" stroke="#1a1a1a" stroke-width="1.3"/>
<text x="116.6" y="70.6" font-size="8.05" text-anchor="middle" fill="#000" >Anova, p <tspan font-size="10.2" dy="0.9" stroke="none">&lt;</tspan><tspan dy="-0.9"> 2.2e−16</tspan></text>
<path d="M116.5 96.7V92.2H151.9V96.7" fill="none" stroke="#1a1a1a" stroke-width="1.1"/>
<text x="134.2" y="88.5" font-size="7.50" text-anchor="middle" fill="#000" >ns</text>
<path d="M81.1 237.9V240.9" stroke="#1a1a1a" stroke-width="1"/>
<path d="M116.5 237.9V240.9" stroke="#1a1a1a" stroke-width="1"/>
<path d="M151.9 237.9V240.9" stroke="#1a1a1a" stroke-width="1"/>
<rect x="179.3" y="59.9" width="78.0" height="178.0" fill="#fff"/>
<g fill="#000" fill-opacity="0.32">
<circle cx="200.4" cy="218.4" r="1.85"/>
<circle cx="201.3" cy="192.5" r="1.85"/>
<circle cx="200.1" cy="205.5" r="1.85"/>
<circle cx="199.4" cy="208.0" r="1.85"/>
<circle cx="201.2" cy="200.0" r="1.85"/>
<circle cx="200.8" cy="191.5" r="1.85"/>
<circle cx="199.2" cy="197.0" r="1.85"/>
<circle cx="199.9" cy="207.0" r="1.85"/>
<circle cx="201.1" cy="201.5" r="1.85"/>
<circle cx="200.7" cy="216.5" r="1.85"/>
<circle cx="199.6" cy="206.3" r="1.85"/>
<circle cx="200.0" cy="200.8" r="1.85"/>
<circle cx="199.3" cy="196.0" r="1.85"/>
<circle cx="200.1" cy="217.5" r="1.85"/>
<circle cx="201.4" cy="190.8" r="1.85"/>
<circle cx="201.6" cy="215.5" r="1.85"/>
</g>
<path d="M200.5 190.8V199.4M200.5 211.0V218.4" stroke="#000" stroke-width="1.10" fill="none"/>
<rect x="191.8" y="199.4" width="17.4" height="11.6" fill="none" stroke="#b21a45" stroke-width="1.25"/>
<path d="M191.8 201.1H209.2" stroke="#b21a45" stroke-width="1.25"/>
<g fill="#000" fill-opacity="0.32">
<circle cx="234.9" cy="219.8" r="1.85"/>
<circle cx="234.9" cy="217.4" r="1.85"/>
<circle cx="235.8" cy="217.0" r="1.85"/>
<circle cx="236.2" cy="211.8" r="1.85"/>
<circle cx="235.2" cy="212.8" r="1.85"/>
<circle cx="237.3" cy="216.8" r="1.85"/>
<circle cx="235.4" cy="224.0" r="1.85"/>
<circle cx="237.3" cy="215.9" r="1.85"/>
<circle cx="235.8" cy="221.4" r="1.85"/>
<circle cx="235.6" cy="217.6" r="1.85"/>
<circle cx="235.9" cy="222.0" r="1.85"/>
<circle cx="235.3" cy="215.0" r="1.85"/>
<circle cx="234.7" cy="213.3" r="1.85"/>
<circle cx="235.3" cy="211.2" r="1.85"/>
<circle cx="236.2" cy="220.2" r="1.85"/>
<circle cx="236.8" cy="214.4" r="1.85"/>
<circle cx="236.6" cy="222.4" r="1.85"/>
<circle cx="235.6" cy="224.9" r="1.85"/>
<circle cx="235.0" cy="218.5" r="1.85"/>
<circle cx="235.2" cy="225.4" r="1.85"/>
<circle cx="235.4" cy="219.6" r="1.85"/>
<circle cx="236.0" cy="223.6" r="1.85"/>
<circle cx="237.1" cy="220.8" r="1.85"/>
<circle cx="235.5" cy="222.8" r="1.85"/>
<circle cx="234.8" cy="220.5" r="1.85"/>
<circle cx="236.9" cy="214.2" r="1.85"/>
<circle cx="234.5" cy="221.1" r="1.85"/>
<circle cx="234.7" cy="214.9" r="1.85"/>
<circle cx="237.1" cy="219.1" r="1.85"/>
<circle cx="235.0" cy="212.0" r="1.85"/>
<circle cx="236.2" cy="223.2" r="1.85"/>
<circle cx="234.6" cy="217.9" r="1.85"/>
<circle cx="235.0" cy="222.1" r="1.85"/>
<circle cx="236.1" cy="219.2" r="1.85"/>
<circle cx="236.7" cy="213.1" r="1.85"/>
<circle cx="235.6" cy="213.8" r="1.85"/>
<circle cx="235.4" cy="215.8" r="1.85"/>
<circle cx="236.5" cy="218.2" r="1.85"/>
<circle cx="234.8" cy="216.3" r="1.85"/>
<circle cx="236.5" cy="215.3" r="1.85"/>
</g>
<path d="M235.8 210.4V215.6M235.8 220.8V226.0" stroke="#000" stroke-width="1.10" fill="none"/>
<rect x="227.1" y="215.6" width="17.4" height="5.2" fill="none" stroke="#b21a45" stroke-width="1.25"/>
<path d="M227.1 217.9H244.5" stroke="#b21a45" stroke-width="1.25"/>
<rect x="179.3" y="59.9" width="78.0" height="178.0" fill="none" stroke="#1a1a1a" stroke-width="1.3"/>
<text x="218.3" y="70.6" font-size="8.05" text-anchor="middle" fill="#000" >Anova, p = 2.2e−09</text>
<path d="M200.5 237.9V240.9" stroke="#1a1a1a" stroke-width="1"/>
<path d="M235.9 237.9V240.9" stroke="#1a1a1a" stroke-width="1"/>
<rect x="263.0" y="59.9" width="113.5" height="178.0" fill="#fff"/>
<g fill="#000" fill-opacity="0.32">
<circle cx="284.5" cy="105.0" r="1.85"/>
<circle cx="284.0" cy="130.7" r="1.85"/>
<circle cx="285.5" cy="184.2" r="1.85"/>
<circle cx="285.0" cy="199.3" r="1.85"/>
<circle cx="283.1" cy="197.5" r="1.85"/>
<circle cx="284.3" cy="192.5" r="1.85"/>
<circle cx="284.6" cy="201.7" r="1.85"/>
<circle cx="285.4" cy="68.2" r="1.85"/>
<circle cx="285.5" cy="196.5" r="1.85"/>
<circle cx="284.2" cy="191.5" r="1.85"/>
<circle cx="284.4" cy="187.4" r="1.85"/>
<circle cx="284.6" cy="177.0" r="1.85"/>
<circle cx="283.4" cy="190.0" r="1.85"/>
<circle cx="284.4" cy="208.8" r="1.85"/>
<circle cx="283.4" cy="114.0" r="1.85"/>
<circle cx="285.4" cy="193.5" r="1.85"/>
<circle cx="284.5" cy="121.2" r="1.85"/>
<circle cx="285.4" cy="203.5" r="1.85"/>
<circle cx="284.9" cy="153.0" r="1.85"/>
<circle cx="284.4" cy="166.6" r="1.85"/>
<circle cx="283.6" cy="91.5" r="1.85"/>
<circle cx="283.2" cy="148.8" r="1.85"/>
<circle cx="284.7" cy="115.5" r="1.85"/>
<circle cx="284.9" cy="134.7" r="1.85"/>
<circle cx="285.3" cy="205.7" r="1.85"/>
<circle cx="283.5" cy="95.0" r="1.85"/>
<circle cx="284.7" cy="194.5" r="1.85"/>
<circle cx="283.9" cy="117.0" r="1.85"/>
<circle cx="283.0" cy="73.5" r="1.85"/>
<circle cx="284.4" cy="195.5" r="1.85"/>
</g>
<path d="M284.2 68.2V118.9M284.2 197.8V208.8" stroke="#000" stroke-width="1.10" fill="none"/>
<rect x="275.5" y="118.9" width="17.4" height="78.9" fill="none" stroke="#b21a45" stroke-width="1.25"/>
<path d="M275.5 188.5H292.9" stroke="#b21a45" stroke-width="1.25"/>
<g fill="#000" fill-opacity="0.32">
<circle cx="318.5" cy="221.7" r="1.85"/>
<circle cx="318.6" cy="223.2" r="1.85"/>
<circle cx="321.3" cy="222.7" r="1.85"/>
<circle cx="320.4" cy="222.8" r="1.85"/>
<circle cx="318.8" cy="224.7" r="1.85"/>
<circle cx="318.7" cy="226.1" r="1.85"/>
<circle cx="319.3" cy="218.1" r="1.85"/>
<circle cx="320.0" cy="218.6" r="1.85"/>
<circle cx="320.3" cy="219.7" r="1.85"/>
<circle cx="320.4" cy="220.4" r="1.85"/>
<circle cx="320.4" cy="225.0" r="1.85"/>
<circle cx="318.3" cy="225.4" r="1.85"/>
<circle cx="321.4" cy="223.5" r="1.85"/>
<circle cx="320.2" cy="221.6" r="1.85"/>
<circle cx="319.5" cy="224.2" r="1.85"/>
<circle cx="320.1" cy="220.6" r="1.85"/>
<circle cx="319.8" cy="225.9" r="1.85"/>
<circle cx="320.9" cy="224.0" r="1.85"/>
<circle cx="320.3" cy="227.2" r="1.85"/>
<circle cx="318.8" cy="220.1" r="1.85"/>
<circle cx="318.9" cy="221.0" r="1.85"/>
<circle cx="319.5" cy="222.1" r="1.85"/>
</g>
<path d="M319.8 217.6V221.3M319.8 225.0V227.5" stroke="#000" stroke-width="1.10" fill="none"/>
<rect x="311.1" y="221.3" width="17.4" height="3.7" fill="none" stroke="#b21a45" stroke-width="1.25"/>
<path d="M311.1 223.0H328.5" stroke="#b21a45" stroke-width="1.25"/>
<g fill="#000" fill-opacity="0.32">
<circle cx="355.1" cy="202.0" r="1.85"/>
<circle cx="355.1" cy="214.3" r="1.85"/>
<circle cx="356.2" cy="208.5" r="1.85"/>
<circle cx="352.6" cy="225.2" r="1.85"/>
<circle cx="356.0" cy="206.2" r="1.85"/>
<circle cx="353.7" cy="209.5" r="1.85"/>
<circle cx="355.6" cy="200.4" r="1.85"/>
<circle cx="354.9" cy="195.9" r="1.85"/>
<circle cx="355.9" cy="223.2" r="1.85"/>
<circle cx="355.5" cy="220.8" r="1.85"/>
<circle cx="356.4" cy="222.5" r="1.85"/>
<circle cx="354.0" cy="223.0" r="1.85"/>
<circle cx="355.1" cy="202.9" r="1.85"/>
<circle cx="354.5" cy="225.7" r="1.85"/>
<circle cx="354.4" cy="209.0" r="1.85"/>
<circle cx="356.8" cy="210.2" r="1.85"/>
<circle cx="357.0" cy="206.5" r="1.85"/>
<circle cx="353.5" cy="222.7" r="1.85"/>
<circle cx="353.2" cy="222.0" r="1.85"/>
<circle cx="355.3" cy="210.6" r="1.85"/>
<circle cx="354.3" cy="211.5" r="1.85"/>
<circle cx="354.6" cy="219.8" r="1.85"/>
<circle cx="355.2" cy="205.7" r="1.85"/>
<circle cx="353.5" cy="213.4" r="1.85"/>
<circle cx="354.2" cy="203.2" r="1.85"/>
<circle cx="353.4" cy="208.2" r="1.85"/>
<circle cx="356.9" cy="223.6" r="1.85"/>
<circle cx="357.3" cy="224.1" r="1.85"/>
<circle cx="355.3" cy="222.9" r="1.85"/>
<circle cx="354.4" cy="223.3" r="1.85"/>
<circle cx="354.4" cy="202.5" r="1.85"/>
<circle cx="355.0" cy="224.7" r="1.85"/>
<circle cx="356.9" cy="210.8" r="1.85"/>
<circle cx="357.0" cy="224.8" r="1.85"/>
<circle cx="355.1" cy="216.0" r="1.85"/>
<circle cx="353.4" cy="207.0" r="1.85"/>
<circle cx="354.7" cy="204.8" r="1.85"/>
<circle cx="354.9" cy="225.9" r="1.85"/>
<circle cx="354.6" cy="197.8" r="1.85"/>
<circle cx="354.7" cy="210.0" r="1.85"/>
<circle cx="356.0" cy="220.4" r="1.85"/>
<circle cx="355.3" cy="208.0" r="1.85"/>
<circle cx="354.8" cy="205.4" r="1.85"/>
<circle cx="356.6" cy="211.1" r="1.85"/>
<circle cx="353.5" cy="212.4" r="1.85"/>
<circle cx="354.6" cy="207.3" r="1.85"/>
<circle cx="353.2" cy="222.3" r="1.85"/>
<circle cx="356.6" cy="225.0" r="1.85"/>
<circle cx="353.6" cy="204.6" r="1.85"/>
<circle cx="355.3" cy="213.6" r="1.85"/>
<circle cx="355.4" cy="209.4" r="1.85"/>
<circle cx="355.2" cy="227.3" r="1.85"/>
<circle cx="356.8" cy="212.9" r="1.85"/>
<circle cx="355.2" cy="203.5" r="1.85"/>
<circle cx="356.1" cy="211.3" r="1.85"/>
<circle cx="356.1" cy="211.7" r="1.85"/>
<circle cx="356.4" cy="221.7" r="1.85"/>
<circle cx="356.7" cy="210.5" r="1.85"/>
<circle cx="356.4" cy="205.6" r="1.85"/>
<circle cx="354.4" cy="200.1" r="1.85"/>
<circle cx="355.9" cy="212.8" r="1.85"/>
<circle cx="356.2" cy="208.1" r="1.85"/>
<circle cx="355.2" cy="223.6" r="1.85"/>
<circle cx="353.6" cy="211.1" r="1.85"/>
<circle cx="355.8" cy="206.0" r="1.85"/>
<circle cx="355.0" cy="202.7" r="1.85"/>
<circle cx="355.5" cy="198.6" r="1.85"/>
<circle cx="355.0" cy="204.2" r="1.85"/>
<circle cx="356.2" cy="226.3" r="1.85"/>
<circle cx="356.0" cy="223.9" r="1.85"/>
<circle cx="353.6" cy="207.6" r="1.85"/>
<circle cx="355.8" cy="213.1" r="1.85"/>
<circle cx="354.5" cy="201.3" r="1.85"/>
<circle cx="355.8" cy="225.6" r="1.85"/>
<circle cx="356.6" cy="224.0" r="1.85"/>
<circle cx="356.9" cy="207.7" r="1.85"/>
<circle cx="356.6" cy="225.4" r="1.85"/>
<circle cx="355.3" cy="204.5" r="1.85"/>
<circle cx="353.4" cy="225.2" r="1.85"/>
<circle cx="355.4" cy="221.8" r="1.85"/>
<circle cx="355.7" cy="212.0" r="1.85"/>
<circle cx="356.4" cy="207.1" r="1.85"/>
<circle cx="354.6" cy="196.5" r="1.85"/>
<circle cx="355.9" cy="206.7" r="1.85"/>
<circle cx="353.2" cy="223.4" r="1.85"/>
<circle cx="354.5" cy="212.6" r="1.85"/>
<circle cx="353.9" cy="221.2" r="1.85"/>
<circle cx="354.2" cy="224.5" r="1.85"/>
<circle cx="355.1" cy="195.2" r="1.85"/>
<circle cx="353.8" cy="208.9" r="1.85"/>
<circle cx="354.1" cy="209.7" r="1.85"/>
<circle cx="355.6" cy="210.3" r="1.85"/>
<circle cx="353.2" cy="224.6" r="1.85"/>
<circle cx="354.3" cy="220.9" r="1.85"/>
<circle cx="354.7" cy="226.6" r="1.85"/>
<circle cx="356.3" cy="212.0" r="1.85"/>
<circle cx="352.5" cy="224.3" r="1.85"/>
<circle cx="356.0" cy="226.9" r="1.85"/>
<circle cx="353.5" cy="205.1" r="1.85"/>
<circle cx="353.7" cy="226.2" r="1.85"/>
<circle cx="355.1" cy="199.1" r="1.85"/>
<circle cx="352.8" cy="222.1" r="1.85"/>
<circle cx="354.8" cy="221.4" r="1.85"/>
<circle cx="353.8" cy="203.7" r="1.85"/>
<circle cx="353.1" cy="208.7" r="1.85"/>
<circle cx="353.5" cy="206.4" r="1.85"/>
<circle cx="354.0" cy="213.9" r="1.85"/>
<circle cx="352.8" cy="209.2" r="1.85"/>
<circle cx="356.0" cy="209.8" r="1.85"/>
<circle cx="354.1" cy="201.6" r="1.85"/>
</g>
<path d="M355.0 193.6V206.3M355.0 224.3V227.5" stroke="#000" stroke-width="1.10" fill="none"/>
<rect x="346.3" y="206.3" width="17.4" height="18.0" fill="none" stroke="#b21a45" stroke-width="1.25"/>
<path d="M346.3 211.7H363.7" stroke="#b21a45" stroke-width="1.25"/>
<rect x="263.0" y="59.9" width="113.5" height="178.0" fill="none" stroke="#1a1a1a" stroke-width="1.3"/>
<text x="327.1" y="70.6" font-size="8.05" text-anchor="middle" fill="#000" >Anova, p <tspan font-size="10.2" dy="0.9" stroke="none">&lt;</tspan><tspan dy="-0.9"> 2.2e−16</tspan></text>
<path d="M319.8 96.7V92.2H355.0V96.7" fill="none" stroke="#1a1a1a" stroke-width="1.1"/>
<text x="337.4" y="92.8" font-size="8.20" text-anchor="middle" fill="#000" font-weight="bold" class="ng">****</text>
<path d="M284.2 237.9V240.9" stroke="#1a1a1a" stroke-width="1"/>
<path d="M319.8 237.9V240.9" stroke="#1a1a1a" stroke-width="1"/>
<path d="M355.0 237.9V240.9" stroke="#1a1a1a" stroke-width="1"/>
<rect x="382.3" y="59.9" width="113.4" height="178.0" fill="#fff"/>
<g fill="#000" fill-opacity="0.32">
<circle cx="404.1" cy="219.5" r="1.85"/>
<circle cx="401.9" cy="222.5" r="1.85"/>
<circle cx="405.3" cy="178.0" r="1.85"/>
<circle cx="405.4" cy="186.0" r="1.85"/>
<circle cx="403.9" cy="207.0" r="1.85"/>
<circle cx="404.4" cy="194.0" r="1.85"/>
<circle cx="402.6" cy="212.0" r="1.85"/>
<circle cx="405.7" cy="206.0" r="1.85"/>
<circle cx="401.8" cy="215.0" r="1.85"/>
<circle cx="401.6" cy="213.5" r="1.85"/>
<circle cx="401.2" cy="180.5" r="1.85"/>
<circle cx="405.5" cy="221.0" r="1.85"/>
<circle cx="402.2" cy="190.4" r="1.85"/>
<circle cx="403.3" cy="183.5" r="1.85"/>
<circle cx="403.9" cy="200.0" r="1.85"/>
<circle cx="401.9" cy="199.0" r="1.85"/>
<circle cx="403.6" cy="216.5" r="1.85"/>
<circle cx="405.2" cy="202.0" r="1.85"/>
<circle cx="405.9" cy="156.1" r="1.85"/>
<circle cx="402.0" cy="195.0" r="1.85"/>
<circle cx="402.3" cy="189.0" r="1.85"/>
<circle cx="402.2" cy="193.5" r="1.85"/>
<circle cx="403.7" cy="111.4" r="1.85"/>
<circle cx="402.9" cy="197.0" r="1.85"/>
<circle cx="401.3" cy="208.0" r="1.85"/>
<circle cx="401.0" cy="191.5" r="1.85"/>
<circle cx="404.1" cy="203.0" r="1.85"/>
<circle cx="401.9" cy="204.0" r="1.85"/>
<circle cx="404.8" cy="176.5" r="1.85"/>
<circle cx="402.7" cy="164.4" r="1.85"/>
<circle cx="402.5" cy="224.0" r="1.85"/>
<circle cx="405.3" cy="211.0" r="1.85"/>
<circle cx="403.0" cy="177.5" r="1.85"/>
<circle cx="401.7" cy="192.5" r="1.85"/>
<circle cx="404.6" cy="205.0" r="1.85"/>
<circle cx="405.0" cy="209.0" r="1.85"/>
<circle cx="405.3" cy="218.0" r="1.85"/>
</g>
<path d="M403.4 156.1V186.4M403.4 210.0V224.0" stroke="#000" stroke-width="1.10" fill="none"/>
<rect x="394.7" y="186.4" width="17.4" height="23.6" fill="none" stroke="#b21a45" stroke-width="1.25"/>
<path d="M394.7 199.8H412.1" stroke="#b21a45" stroke-width="1.25"/>
<g fill="#000" fill-opacity="0.32">
<circle cx="438.8" cy="219.4" r="1.85"/>
<circle cx="437.8" cy="214.3" r="1.85"/>
<circle cx="440.0" cy="218.9" r="1.85"/>
<circle cx="438.5" cy="217.4" r="1.85"/>
<circle cx="440.5" cy="211.0" r="1.85"/>
<circle cx="439.1" cy="213.9" r="1.85"/>
<circle cx="439.7" cy="221.4" r="1.85"/>
<circle cx="437.3" cy="215.3" r="1.85"/>
<circle cx="438.2" cy="212.6" r="1.85"/>
<circle cx="440.4" cy="215.2" r="1.85"/>
<circle cx="439.1" cy="208.3" r="1.85"/>
<circle cx="439.4" cy="203.0" r="1.85"/>
<circle cx="437.7" cy="217.6" r="1.85"/>
<circle cx="439.4" cy="219.1" r="1.85"/>
<circle cx="439.5" cy="213.0" r="1.85"/>
<circle cx="438.5" cy="212.3" r="1.85"/>
<circle cx="439.9" cy="211.3" r="1.85"/>
<circle cx="438.8" cy="219.9" r="1.85"/>
<circle cx="437.8" cy="217.1" r="1.85"/>
<circle cx="437.8" cy="213.6" r="1.85"/>
<circle cx="439.2" cy="212.8" r="1.85"/>
<circle cx="440.6" cy="214.9" r="1.85"/>
<circle cx="440.4" cy="215.8" r="1.85"/>
<circle cx="438.8" cy="205.2" r="1.85"/>
<circle cx="439.1" cy="214.1" r="1.85"/>
<circle cx="438.4" cy="211.0" r="1.85"/>
<circle cx="440.0" cy="203.6" r="1.85"/>
<circle cx="437.0" cy="217.8" r="1.85"/>
<circle cx="438.4" cy="215.7" r="1.85"/>
<circle cx="438.9" cy="213.2" r="1.85"/>
<circle cx="439.6" cy="219.6" r="1.85"/>
<circle cx="439.6" cy="209.9" r="1.85"/>
<circle cx="438.6" cy="206.2" r="1.85"/>
<circle cx="439.0" cy="202.0" r="1.85"/>
<circle cx="440.4" cy="218.6" r="1.85"/>
<circle cx="437.0" cy="215.0" r="1.85"/>
<circle cx="439.8" cy="204.6" r="1.85"/>
<circle cx="437.9" cy="215.5" r="1.85"/>
<circle cx="440.4" cy="214.1" r="1.85"/>
<circle cx="440.3" cy="211.4" r="1.85"/>
<circle cx="438.9" cy="222.1" r="1.85"/>
<circle cx="438.8" cy="204.9" r="1.85"/>
<circle cx="439.0" cy="211.5" r="1.85"/>
<circle cx="438.7" cy="220.4" r="1.85"/>
<circle cx="437.9" cy="218.2" r="1.85"/>
<circle cx="439.7" cy="220.3" r="1.85"/>
<circle cx="440.5" cy="214.7" r="1.85"/>
<circle cx="438.8" cy="207.8" r="1.85"/>
<circle cx="437.5" cy="214.4" r="1.85"/>
<circle cx="440.8" cy="214.8" r="1.85"/>
<circle cx="439.1" cy="212.3" r="1.85"/>
<circle cx="439.8" cy="216.8" r="1.85"/>
<circle cx="438.0" cy="201.8" r="1.85"/>
<circle cx="437.9" cy="202.6" r="1.85"/>
<circle cx="439.1" cy="203.2" r="1.85"/>
<circle cx="438.9" cy="204.4" r="1.85"/>
<circle cx="438.5" cy="219.9" r="1.85"/>
<circle cx="437.6" cy="219.3" r="1.85"/>
<circle cx="438.5" cy="212.1" r="1.85"/>
<circle cx="438.9" cy="216.5" r="1.85"/>
<circle cx="438.7" cy="218.9" r="1.85"/>
<circle cx="439.6" cy="214.6" r="1.85"/>
<circle cx="440.0" cy="212.1" r="1.85"/>
<circle cx="438.9" cy="208.6" r="1.85"/>
<circle cx="437.2" cy="215.6" r="1.85"/>
<circle cx="439.5" cy="210.4" r="1.85"/>
<circle cx="438.5" cy="216.2" r="1.85"/>
<circle cx="438.9" cy="222.7" r="1.85"/>
<circle cx="437.9" cy="213.0" r="1.85"/>
<circle cx="441.0" cy="211.7" r="1.85"/>
<circle cx="437.9" cy="210.2" r="1.85"/>
<circle cx="438.7" cy="209.1" r="1.85"/>
<circle cx="437.3" cy="218.4" r="1.85"/>
<circle cx="438.5" cy="210.6" r="1.85"/>
<circle cx="440.2" cy="216.6" r="1.85"/>
<circle cx="438.6" cy="209.3" r="1.85"/>
<circle cx="438.8" cy="214.5" r="1.85"/>
<circle cx="439.7" cy="209.8" r="1.85"/>
<circle cx="440.0" cy="213.3" r="1.85"/>
<circle cx="438.9" cy="205.4" r="1.85"/>
<circle cx="438.4" cy="201.3" r="1.85"/>
<circle cx="440.8" cy="213.1" r="1.85"/>
<circle cx="438.6" cy="205.6" r="1.85"/>
<circle cx="439.1" cy="217.0" r="1.85"/>
<circle cx="439.4" cy="210.6" r="1.85"/>
<circle cx="438.7" cy="204.4" r="1.85"/>
<circle cx="440.4" cy="214.4" r="1.85"/>
<circle cx="438.5" cy="221.2" r="1.85"/>
<circle cx="439.6" cy="211.9" r="1.85"/>
<circle cx="438.8" cy="204.1" r="1.85"/>
<circle cx="439.1" cy="213.9" r="1.85"/>
<circle cx="440.1" cy="211.9" r="1.85"/>
<circle cx="440.5" cy="215.2" r="1.85"/>
<circle cx="439.3" cy="220.2" r="1.85"/>
<circle cx="439.1" cy="222.5" r="1.85"/>
<circle cx="439.6" cy="212.7" r="1.85"/>
<circle cx="438.0" cy="218.1" r="1.85"/>
<circle cx="437.4" cy="215.4" r="1.85"/>
<circle cx="439.4" cy="206.1" r="1.85"/>
<circle cx="440.4" cy="218.3" r="1.85"/>
<circle cx="438.7" cy="202.5" r="1.85"/>
<circle cx="439.3" cy="217.7" r="1.85"/>
<circle cx="437.4" cy="213.7" r="1.85"/>
<circle cx="439.7" cy="221.1" r="1.85"/>
<circle cx="439.1" cy="215.9" r="1.85"/>
<circle cx="438.5" cy="197.1" r="1.85"/>
<circle cx="437.8" cy="212.9" r="1.85"/>
<circle cx="439.4" cy="203.4" r="1.85"/>
<circle cx="438.5" cy="201.5" r="1.85"/>
<circle cx="440.3" cy="216.6" r="1.85"/>
<circle cx="440.9" cy="213.8" r="1.85"/>
<circle cx="439.4" cy="202.8" r="1.85"/>
<circle cx="438.4" cy="217.0" r="1.85"/>
<circle cx="439.2" cy="207.3" r="1.85"/>
<circle cx="439.1" cy="203.1" r="1.85"/>
<circle cx="439.8" cy="203.7" r="1.85"/>
<circle cx="439.5" cy="212.5" r="1.85"/>
<circle cx="440.0" cy="217.9" r="1.85"/>
<circle cx="439.4" cy="211.6" r="1.85"/>
<circle cx="437.2" cy="216.0" r="1.85"/>
<circle cx="439.1" cy="210.7" r="1.85"/>
<circle cx="438.9" cy="213.5" r="1.85"/>
<circle cx="439.9" cy="210.0" r="1.85"/>
<circle cx="438.5" cy="215.0" r="1.85"/>
<circle cx="438.8" cy="220.6" r="1.85"/>
<circle cx="438.8" cy="202.2" r="1.85"/>
<circle cx="439.1" cy="213.4" r="1.85"/>
<circle cx="438.8" cy="216.4" r="1.85"/>
<circle cx="437.9" cy="211.8" r="1.85"/>
<circle cx="439.8" cy="212.5" r="1.85"/>
<circle cx="438.1" cy="201.7" r="1.85"/>
<circle cx="438.6" cy="219.1" r="1.85"/>
<circle cx="438.4" cy="209.5" r="1.85"/>
<circle cx="439.5" cy="218.5" r="1.85"/>
<circle cx="439.9" cy="216.3" r="1.85"/>
<circle cx="438.3" cy="217.3" r="1.85"/>
<circle cx="439.4" cy="203.9" r="1.85"/>
<circle cx="437.2" cy="211.2" r="1.85"/>
<circle cx="438.2" cy="218.2" r="1.85"/>
<circle cx="439.2" cy="221.9" r="1.85"/>
<circle cx="438.4" cy="217.2" r="1.85"/>
<circle cx="439.1" cy="220.8" r="1.85"/>
<circle cx="437.6" cy="217.8" r="1.85"/>
<circle cx="439.0" cy="207.1" r="1.85"/>
<circle cx="439.1" cy="202.3" r="1.85"/>
<circle cx="437.9" cy="218.7" r="1.85"/>
<circle cx="437.4" cy="216.8" r="1.85"/>
<circle cx="438.6" cy="219.5" r="1.85"/>
<circle cx="441.2" cy="216.3" r="1.85"/>
<circle cx="438.8" cy="216.0" r="1.85"/>
<circle cx="436.8" cy="217.5" r="1.85"/>
</g>
<path d="M439.0 201.2V210.5M439.0 217.1V223.2" stroke="#000" stroke-width="1.10" fill="none"/>
<rect x="430.3" y="210.5" width="17.4" height="6.6" fill="none" stroke="#b21a45" stroke-width="1.25"/>
<path d="M430.3 214.6H447.7" stroke="#b21a45" stroke-width="1.25"/>
<g fill="#000" fill-opacity="0.32">
<circle cx="472.6" cy="216.8" r="1.85"/>
<circle cx="474.6" cy="216.2" r="1.85"/>
<circle cx="474.8" cy="224.1" r="1.85"/>
<circle cx="476.7" cy="215.1" r="1.85"/>
<circle cx="473.8" cy="216.7" r="1.85"/>
<circle cx="472.4" cy="218.4" r="1.85"/>
<circle cx="474.1" cy="210.6" r="1.85"/>
<circle cx="474.7" cy="220.3" r="1.85"/>
<circle cx="475.1" cy="217.8" r="1.85"/>
<circle cx="474.4" cy="207.1" r="1.85"/>
<circle cx="474.5" cy="211.3" r="1.85"/>
<circle cx="474.5" cy="205.0" r="1.85"/>
<circle cx="472.7" cy="213.4" r="1.85"/>
<circle cx="473.6" cy="224.3" r="1.85"/>
<circle cx="473.0" cy="221.8" r="1.85"/>
<circle cx="476.3" cy="215.4" r="1.85"/>
<circle cx="475.2" cy="220.5" r="1.85"/>
<circle cx="473.5" cy="214.2" r="1.85"/>
<circle cx="475.7" cy="218.8" r="1.85"/>
<circle cx="476.7" cy="222.3" r="1.85"/>
<circle cx="475.9" cy="220.5" r="1.85"/>
<circle cx="476.3" cy="218.9" r="1.85"/>
<circle cx="476.0" cy="216.6" r="1.85"/>
<circle cx="474.0" cy="223.0" r="1.85"/>
<circle cx="475.3" cy="225.0" r="1.85"/>
<circle cx="472.3" cy="219.1" r="1.85"/>
<circle cx="474.2" cy="211.9" r="1.85"/>
<circle cx="474.1" cy="220.3" r="1.85"/>
<circle cx="476.7" cy="217.6" r="1.85"/>
<circle cx="476.3" cy="221.6" r="1.85"/>
<circle cx="474.0" cy="219.8" r="1.85"/>
<circle cx="475.1" cy="217.5" r="1.85"/>
<circle cx="474.2" cy="210.2" r="1.85"/>
<circle cx="474.6" cy="217.0" r="1.85"/>
<circle cx="473.2" cy="213.8" r="1.85"/>
<circle cx="472.5" cy="217.3" r="1.85"/>
<circle cx="474.3" cy="213.7" r="1.85"/>
<circle cx="475.7" cy="219.0" r="1.85"/>
<circle cx="474.3" cy="216.4" r="1.85"/>
<circle cx="476.0" cy="213.4" r="1.85"/>
<circle cx="473.4" cy="222.9" r="1.85"/>
<circle cx="476.7" cy="220.8" r="1.85"/>
<circle cx="473.5" cy="221.0" r="1.85"/>
<circle cx="472.9" cy="221.1" r="1.85"/>
<circle cx="474.5" cy="204.3" r="1.85"/>
<circle cx="474.9" cy="221.2" r="1.85"/>
<circle cx="474.3" cy="218.7" r="1.85"/>
<circle cx="475.4" cy="214.3" r="1.85"/>
<circle cx="476.1" cy="213.9" r="1.85"/>
<circle cx="475.7" cy="220.1" r="1.85"/>
<circle cx="474.3" cy="209.2" r="1.85"/>
<circle cx="475.5" cy="212.1" r="1.85"/>
<circle cx="474.2" cy="217.5" r="1.85"/>
<circle cx="473.6" cy="222.4" r="1.85"/>
<circle cx="472.4" cy="219.8" r="1.85"/>
<circle cx="475.0" cy="211.6" r="1.85"/>
<circle cx="474.8" cy="210.1" r="1.85"/>
<circle cx="473.4" cy="215.0" r="1.85"/>
<circle cx="472.2" cy="213.3" r="1.85"/>
<circle cx="473.7" cy="224.6" r="1.85"/>
<circle cx="475.6" cy="221.8" r="1.85"/>
<circle cx="474.6" cy="218.0" r="1.85"/>
<circle cx="474.9" cy="219.5" r="1.85"/>
<circle cx="475.3" cy="214.5" r="1.85"/>
<circle cx="472.8" cy="219.5" r="1.85"/>
<circle cx="476.1" cy="218.5" r="1.85"/>
<circle cx="474.7" cy="208.7" r="1.85"/>
<circle cx="475.9" cy="212.7" r="1.85"/>
<circle cx="475.7" cy="223.9" r="1.85"/>
<circle cx="476.4" cy="217.2" r="1.85"/>
<circle cx="472.9" cy="223.8" r="1.85"/>
<circle cx="473.7" cy="219.2" r="1.85"/>
<circle cx="475.8" cy="223.7" r="1.85"/>
<circle cx="473.4" cy="214.3" r="1.85"/>
<circle cx="473.2" cy="215.2" r="1.85"/>
<circle cx="475.1" cy="214.1" r="1.85"/>
<circle cx="472.6" cy="214.2" r="1.85"/>
<circle cx="476.7" cy="218.4" r="1.85"/>
<circle cx="473.0" cy="216.0" r="1.85"/>
<circle cx="474.9" cy="209.8" r="1.85"/>
<circle cx="476.6" cy="219.3" r="1.85"/>
<circle cx="474.4" cy="224.0" r="1.85"/>
<circle cx="473.5" cy="222.1" r="1.85"/>
<circle cx="475.1" cy="223.6" r="1.85"/>
<circle cx="473.9" cy="220.7" r="1.85"/>
<circle cx="476.7" cy="223.1" r="1.85"/>
<circle cx="472.8" cy="219.3" r="1.85"/>
<circle cx="476.5" cy="217.2" r="1.85"/>
<circle cx="475.1" cy="211.8" r="1.85"/>
<circle cx="474.5" cy="218.2" r="1.85"/>
<circle cx="474.6" cy="205.4" r="1.85"/>
<circle cx="475.4" cy="218.6" r="1.85"/>
<circle cx="476.0" cy="221.2" r="1.85"/>
<circle cx="476.1" cy="223.5" r="1.85"/>
<circle cx="475.1" cy="212.2" r="1.85"/>
<circle cx="475.6" cy="219.0" r="1.85"/>
<circle cx="475.7" cy="219.9" r="1.85"/>
<circle cx="474.1" cy="212.5" r="1.85"/>
<circle cx="473.0" cy="222.4" r="1.85"/>
<circle cx="475.0" cy="215.4" r="1.85"/>
<circle cx="473.7" cy="224.8" r="1.85"/>
<circle cx="475.0" cy="213.6" r="1.85"/>
<circle cx="474.9" cy="219.6" r="1.85"/>
<circle cx="472.2" cy="213.1" r="1.85"/>
<circle cx="474.1" cy="225.8" r="1.85"/>
<circle cx="472.9" cy="221.7" r="1.85"/>
<circle cx="474.9" cy="210.5" r="1.85"/>
<circle cx="472.3" cy="214.8" r="1.85"/>
<circle cx="475.0" cy="224.7" r="1.85"/>
<circle cx="476.4" cy="215.5" r="1.85"/>
<circle cx="475.5" cy="220.9" r="1.85"/>
<circle cx="474.6" cy="205.9" r="1.85"/>
<circle cx="476.7" cy="222.2" r="1.85"/>
<circle cx="472.9" cy="216.1" r="1.85"/>
<circle cx="476.6" cy="215.7" r="1.85"/>
<circle cx="476.1" cy="216.0" r="1.85"/>
<circle cx="476.3" cy="219.4" r="1.85"/>
<circle cx="474.7" cy="208.0" r="1.85"/>
<circle cx="473.9" cy="215.2" r="1.85"/>
<circle cx="476.1" cy="213.0" r="1.85"/>
<circle cx="474.2" cy="225.4" r="1.85"/>
<circle cx="474.0" cy="226.2" r="1.85"/>
<circle cx="475.9" cy="221.3" r="1.85"/>
<circle cx="476.6" cy="216.4" r="1.85"/>
<circle cx="475.4" cy="214.7" r="1.85"/>
<circle cx="476.1" cy="224.5" r="1.85"/>
<circle cx="476.1" cy="212.3" r="1.85"/>
<circle cx="473.3" cy="216.6" r="1.85"/>
<circle cx="474.6" cy="221.5" r="1.85"/>
<circle cx="474.0" cy="211.2" r="1.85"/>
<circle cx="474.7" cy="206.9" r="1.85"/>
<circle cx="476.4" cy="223.3" r="1.85"/>
<circle cx="475.5" cy="211.6" r="1.85"/>
<circle cx="475.3" cy="217.3" r="1.85"/>
<circle cx="474.1" cy="225.9" r="1.85"/>
<circle cx="473.0" cy="216.3" r="1.85"/>
<circle cx="472.7" cy="214.7" r="1.85"/>
<circle cx="473.9" cy="222.1" r="1.85"/>
<circle cx="474.0" cy="215.6" r="1.85"/>
<circle cx="473.5" cy="220.2" r="1.85"/>
<circle cx="474.2" cy="222.7" r="1.85"/>
<circle cx="475.4" cy="225.6" r="1.85"/>
<circle cx="475.3" cy="217.7" r="1.85"/>
<circle cx="473.6" cy="221.9" r="1.85"/>
<circle cx="473.4" cy="223.2" r="1.85"/>
<circle cx="473.9" cy="217.7" r="1.85"/>
<circle cx="474.5" cy="208.2" r="1.85"/>
<circle cx="474.5" cy="215.8" r="1.85"/>
<circle cx="475.1" cy="212.7" r="1.85"/>
<circle cx="473.7" cy="222.7" r="1.85"/>
<circle cx="473.0" cy="215.0" r="1.85"/>
<circle cx="475.9" cy="214.6" r="1.85"/>
<circle cx="474.4" cy="213.2" r="1.85"/>
<circle cx="473.8" cy="212.9" r="1.85"/>
<circle cx="474.5" cy="215.6" r="1.85"/>
<circle cx="476.6" cy="222.6" r="1.85"/>
<circle cx="474.0" cy="223.0" r="1.85"/>
<circle cx="475.6" cy="224.2" r="1.85"/>
<circle cx="474.8" cy="218.6" r="1.85"/>
<circle cx="472.8" cy="221.5" r="1.85"/>
<circle cx="476.0" cy="214.9" r="1.85"/>
<circle cx="473.8" cy="221.4" r="1.85"/>
<circle cx="474.6" cy="203.5" r="1.85"/>
<circle cx="473.5" cy="220.1" r="1.85"/>
<circle cx="474.4" cy="211.1" r="1.85"/>
<circle cx="473.1" cy="223.3" r="1.85"/>
<circle cx="474.0" cy="211.0" r="1.85"/>
<circle cx="474.6" cy="224.5" r="1.85"/>
<circle cx="474.2" cy="214.4" r="1.85"/>
<circle cx="474.9" cy="213.0" r="1.85"/>
<circle cx="476.8" cy="215.9" r="1.85"/>
<circle cx="474.7" cy="225.2" r="1.85"/>
<circle cx="476.7" cy="220.4" r="1.85"/>
<circle cx="475.3" cy="220.6" r="1.85"/>
<circle cx="475.9" cy="213.0" r="1.85"/>
<circle cx="473.8" cy="213.9" r="1.85"/>
<circle cx="473.9" cy="217.1" r="1.85"/>
<circle cx="474.7" cy="216.8" r="1.85"/>
<circle cx="475.2" cy="219.9" r="1.85"/>
<circle cx="475.4" cy="225.2" r="1.85"/>
<circle cx="475.3" cy="218.1" r="1.85"/>
<circle cx="476.2" cy="216.9" r="1.85"/>
<circle cx="473.9" cy="217.9" r="1.85"/>
<circle cx="476.4" cy="218.1" r="1.85"/>
<circle cx="472.8" cy="212.6" r="1.85"/>
<circle cx="473.6" cy="223.7" r="1.85"/>
<circle cx="473.1" cy="222.6" r="1.85"/>
<circle cx="473.9" cy="224.4" r="1.85"/>
<circle cx="473.7" cy="213.8" r="1.85"/>
<circle cx="472.7" cy="222.8" r="1.85"/>
<circle cx="474.1" cy="213.5" r="1.85"/>
<circle cx="472.1" cy="216.2" r="1.85"/>
<circle cx="475.7" cy="212.4" r="1.85"/>
<circle cx="475.3" cy="224.1" r="1.85"/>
<circle cx="473.9" cy="218.3" r="1.85"/>
<circle cx="474.3" cy="223.4" r="1.85"/>
<circle cx="472.4" cy="222.0" r="1.85"/>
<circle cx="473.2" cy="225.1" r="1.85"/>
<circle cx="475.4" cy="212.0" r="1.85"/>
<circle cx="475.4" cy="220.9" r="1.85"/>
</g>
<path d="M474.5 203.1V213.0M474.5 220.0V226.2" stroke="#000" stroke-width="1.10" fill="none"/>
<rect x="465.8" y="213.0" width="17.4" height="7.0" fill="none" stroke="#b21a45" stroke-width="1.25"/>
<path d="M465.8 216.5H483.2" stroke="#b21a45" stroke-width="1.25"/>
<rect x="382.3" y="59.9" width="113.4" height="178.0" fill="none" stroke="#1a1a1a" stroke-width="1.3"/>
<text x="439.0" y="70.6" font-size="8.05" text-anchor="middle" fill="#000" >Anova, p <tspan font-size="10.2" dy="0.9" stroke="none">&lt;</tspan><tspan dy="-0.9"> 2.2e−16</tspan></text>
<path d="M439.0 96.7V92.2H474.5V96.7" fill="none" stroke="#1a1a1a" stroke-width="1.1"/>
<text x="456.8" y="92.8" font-size="8.20" text-anchor="middle" fill="#000" font-weight="bold" class="ng">***</text>
<path d="M403.4 237.9V240.9" stroke="#1a1a1a" stroke-width="1"/>
<path d="M439.0 237.9V240.9" stroke="#1a1a1a" stroke-width="1"/>
<path d="M474.5 237.9V240.9" stroke="#1a1a1a" stroke-width="1"/>
<path d="M56.8 230.3H59.8" stroke="#1a1a1a" stroke-width="1"/>
<text x="53.3" y="233.5" font-size="9.00" text-anchor="end" fill="#333" >0.00</text>
<path d="M56.8 191.9H59.8" stroke="#1a1a1a" stroke-width="1"/>
<text x="53.3" y="195.1" font-size="9.00" text-anchor="end" fill="#333" >0.05</text>
<path d="M56.8 153.5H59.8" stroke="#1a1a1a" stroke-width="1"/>
<text x="53.3" y="156.7" font-size="9.00" text-anchor="end" fill="#333" >0.10</text>
<path d="M56.8 115.1H59.8" stroke="#1a1a1a" stroke-width="1"/>
<text x="53.3" y="118.3" font-size="9.00" text-anchor="end" fill="#333" >0.15</text>
<path d="M56.8 76.7H59.8" stroke="#1a1a1a" stroke-width="1"/>
<text x="53.3" y="79.9" font-size="9.00" text-anchor="end" fill="#333" >0.20</text>
<text x="0" y="0" font-size="11" font-weight="bold" text-anchor="middle" fill="#000" class="ng" transform="translate(30.9 148.9) rotate(-90) scale(0.83 1)">JI</text>
<text x="0" y="0" font-size="8.3" text-anchor="end" fill="#1a1a1a" transform="translate(84.4 248.5) rotate(-45)">within experiment</text>
<text x="0" y="0" font-size="8.3" text-anchor="end" fill="#1a1a1a" transform="translate(119.8 248.5) rotate(-45)">across local experiments</text>
<text x="0" y="0" font-size="8.3" text-anchor="end" fill="#1a1a1a" transform="translate(155.2 248.5) rotate(-45)">across sites</text>
<text x="0" y="0" font-size="8.3" text-anchor="end" fill="#1a1a1a" transform="translate(203.8 248.5) rotate(-45)">within experiment</text>
<text x="0" y="0" font-size="8.3" text-anchor="end" fill="#1a1a1a" transform="translate(239.2 248.5) rotate(-45)">across local experiments</text>
<text x="0" y="0" font-size="8.3" text-anchor="end" fill="#1a1a1a" transform="translate(287.5 248.5) rotate(-45)">within experiment</text>
<text x="0" y="0" font-size="8.3" text-anchor="end" fill="#1a1a1a" transform="translate(323.1 248.5) rotate(-45)">across local experiments</text>
<text x="0" y="0" font-size="8.3" text-anchor="end" fill="#1a1a1a" transform="translate(358.3 248.5) rotate(-45)">across sites</text>
<text x="0" y="0" font-size="8.3" text-anchor="end" fill="#1a1a1a" transform="translate(406.7 248.5) rotate(-45)">within experiment</text>
<text x="0" y="0" font-size="8.3" text-anchor="end" fill="#1a1a1a" transform="translate(442.3 248.5) rotate(-45)">across local experiments</text>
<text x="0" y="0" font-size="8.3" text-anchor="end" fill="#1a1a1a" transform="translate(477.8 248.5) rotate(-45)">across sites</text>
<rect x="59.8" y="331.2" width="113.6" height="16.1" fill="#c1c1c1" stroke="#1a1a1a" stroke-width="1.3"/>
<text x="116.6" y="342.1" font-size="8.15" text-anchor="middle" fill="#1a1a1a" >SYN−B6 <tspan font-size="7">vs</tspan> SYN−B6</text>
<rect x="179.3" y="331.2" width="78.0" height="16.1" fill="#c1c1c1" stroke="#1a1a1a" stroke-width="1.3"/>
<text x="218.3" y="342.1" font-size="8.15" text-anchor="middle" fill="#1a1a1a" >MIN−BB <tspan font-size="7">vs</tspan> MIN−BB</text>
<rect x="263.0" y="331.2" width="113.5" height="16.1" fill="#c1c1c1" stroke="#1a1a1a" stroke-width="1.3"/>
<text x="319.8" y="342.1" font-size="8.15" text-anchor="middle" fill="#1a1a1a" >MAJ−BR <tspan font-size="7">vs</tspan> MAJ−BR</text>
<rect x="382.3" y="331.2" width="113.4" height="16.1" fill="#c1c1c1" stroke="#1a1a1a" stroke-width="1.3"/>
<text x="439.0" y="342.1" font-size="8.15" text-anchor="middle" fill="#1a1a1a" >MAJ−BC <tspan font-size="7">vs</tspan> MAJ−BC</text>
<rect x="495.7" y="347.3" width="16.9" height="178.5" fill="#c1c1c1" stroke="#1a1a1a" stroke-width="1.3"/>
<text x="0" y="0" font-size="7.8" text-anchor="middle" fill="#1a1a1a" transform="translate(502.8 436.5) rotate(90)">Intragroup Relatedness</text>
<rect x="59.8" y="347.3" width="113.6" height="178.5" fill="#fff"/>
<g fill="#000" fill-opacity="0.32">
<circle cx="79.7" cy="513.9" r="1.85"/>
<circle cx="81.1" cy="450.3" r="1.85"/>
<circle cx="82.3" cy="497.1" r="1.85"/>
<circle cx="79.0" cy="493.3" r="1.85"/>
<circle cx="81.1" cy="512.8" r="1.85"/>
<circle cx="79.2" cy="498.6" r="1.85"/>
<circle cx="79.9" cy="501.4" r="1.85"/>
<circle cx="79.8" cy="493.8" r="1.85"/>
<circle cx="82.4" cy="511.5" r="1.85"/>
<circle cx="79.8" cy="494.8" r="1.85"/>
<circle cx="81.0" cy="490.8" r="1.85"/>
<circle cx="83.1" cy="492.2" r="1.85"/>
<circle cx="83.1" cy="509.6" r="1.85"/>
<circle cx="82.2" cy="507.7" r="1.85"/>
<circle cx="82.0" cy="509.9" r="1.85"/>
<circle cx="80.7" cy="487.0" r="1.85"/>
<circle cx="81.8" cy="489.7" r="1.85"/>
<circle cx="81.6" cy="492.6" r="1.85"/>
<circle cx="81.5" cy="409.0" r="1.85"/>
<circle cx="80.6" cy="495.1" r="1.85"/>
<circle cx="79.0" cy="501.0" r="1.85"/>
<circle cx="80.0" cy="489.1" r="1.85"/>
<circle cx="82.0" cy="488.1" r="1.85"/>
<circle cx="79.0" cy="507.3" r="1.85"/>
<circle cx="82.5" cy="499.4" r="1.85"/>
<circle cx="81.2" cy="450.8" r="1.85"/>
<circle cx="79.8" cy="502.9" r="1.85"/>
<circle cx="81.7" cy="496.6" r="1.85"/>
<circle cx="79.8" cy="481.4" r="1.85"/>
<circle cx="81.6" cy="355.7" r="1.85"/>
<circle cx="82.5" cy="495.9" r="1.85"/>
<circle cx="82.7" cy="496.5" r="1.85"/>
<circle cx="81.0" cy="485.6" r="1.85"/>
<circle cx="81.7" cy="504.4" r="1.85"/>
<circle cx="83.3" cy="499.0" r="1.85"/>
<circle cx="82.9" cy="505.3" r="1.85"/>
<circle cx="81.8" cy="487.3" r="1.85"/>
<circle cx="80.5" cy="404.8" r="1.85"/>
<circle cx="79.7" cy="511.9" r="1.85"/>
<circle cx="83.1" cy="501.8" r="1.85"/>
<circle cx="82.0" cy="490.1" r="1.85"/>
<circle cx="81.0" cy="478.8" r="1.85"/>
<circle cx="79.4" cy="491.2" r="1.85"/>
<circle cx="83.0" cy="503.6" r="1.85"/>
<circle cx="81.4" cy="476.4" r="1.85"/>
<circle cx="81.5" cy="422.8" r="1.85"/>
<circle cx="78.9" cy="497.8" r="1.85"/>
<circle cx="79.0" cy="500.5" r="1.85"/>
<circle cx="83.5" cy="494.1" r="1.85"/>
<circle cx="79.6" cy="506.5" r="1.85"/>
<circle cx="81.2" cy="410.5" r="1.85"/>
<circle cx="79.4" cy="508.4" r="1.85"/>
<circle cx="81.7" cy="482.7" r="1.85"/>
<circle cx="79.8" cy="510.4" r="1.85"/>
<circle cx="80.0" cy="484.5" r="1.85"/>
<circle cx="81.9" cy="503.3" r="1.85"/>
<circle cx="82.2" cy="516.4" r="1.85"/>
<circle cx="82.1" cy="515.0" r="1.85"/>
<circle cx="80.1" cy="506.1" r="1.85"/>
</g>
<path d="M81.1 465.0V484.5M81.1 505.3V517.0" stroke="#000" stroke-width="1.10" fill="none"/>
<rect x="72.4" y="484.5" width="17.4" height="20.8" fill="none" stroke="#b21a45" stroke-width="1.25"/>
<path d="M72.4 496.4H89.8" stroke="#b21a45" stroke-width="1.25"/>
<g fill="#000" fill-opacity="0.32">
<circle cx="116.7" cy="482.0" r="1.85"/>
<circle cx="115.1" cy="508.8" r="1.85"/>
<circle cx="117.5" cy="512.7" r="1.85"/>
<circle cx="115.8" cy="501.5" r="1.85"/>
<circle cx="116.2" cy="506.8" r="1.85"/>
<circle cx="116.2" cy="501.7" r="1.85"/>
<circle cx="116.5" cy="510.4" r="1.85"/>
<circle cx="117.2" cy="512.6" r="1.85"/>
<circle cx="117.4" cy="505.2" r="1.85"/>
<circle cx="115.3" cy="499.9" r="1.85"/>
<circle cx="117.2" cy="500.6" r="1.85"/>
<circle cx="117.3" cy="497.0" r="1.85"/>
<circle cx="116.4" cy="504.8" r="1.85"/>
<circle cx="116.9" cy="493.1" r="1.85"/>
<circle cx="118.7" cy="497.4" r="1.85"/>
<circle cx="116.7" cy="506.9" r="1.85"/>
<circle cx="115.0" cy="502.3" r="1.85"/>
<circle cx="116.2" cy="476.0" r="1.85"/>
<circle cx="118.4" cy="504.1" r="1.85"/>
<circle cx="117.7" cy="497.5" r="1.85"/>
<circle cx="114.3" cy="506.2" r="1.85"/>
<circle cx="114.8" cy="503.4" r="1.85"/>
<circle cx="116.6" cy="429.5" r="1.85"/>
<circle cx="115.4" cy="504.4" r="1.85"/>
<circle cx="117.0" cy="507.8" r="1.85"/>
<circle cx="117.4" cy="501.9" r="1.85"/>
<circle cx="115.3" cy="498.0" r="1.85"/>
<circle cx="115.1" cy="510.9" r="1.85"/>
<circle cx="116.9" cy="508.6" r="1.85"/>
<circle cx="115.6" cy="512.2" r="1.85"/>
<circle cx="114.3" cy="510.3" r="1.85"/>
<circle cx="118.4" cy="505.0" r="1.85"/>
<circle cx="117.6" cy="503.1" r="1.85"/>
<circle cx="117.4" cy="510.5" r="1.85"/>
<circle cx="115.4" cy="509.1" r="1.85"/>
<circle cx="116.9" cy="456.0" r="1.85"/>
<circle cx="117.0" cy="504.7" r="1.85"/>
<circle cx="115.5" cy="502.7" r="1.85"/>
<circle cx="117.4" cy="510.1" r="1.85"/>
<circle cx="115.2" cy="508.3" r="1.85"/>
<circle cx="116.7" cy="507.3" r="1.85"/>
<circle cx="117.0" cy="494.5" r="1.85"/>
<circle cx="114.9" cy="497.1" r="1.85"/>
<circle cx="114.9" cy="498.9" r="1.85"/>
<circle cx="118.8" cy="508.1" r="1.85"/>
<circle cx="118.6" cy="511.5" r="1.85"/>
<circle cx="116.5" cy="489.2" r="1.85"/>
<circle cx="117.4" cy="499.6" r="1.85"/>
<circle cx="118.5" cy="511.8" r="1.85"/>
<circle cx="115.5" cy="505.4" r="1.85"/>
<circle cx="116.2" cy="504.9" r="1.85"/>
<circle cx="116.3" cy="498.8" r="1.85"/>
<circle cx="116.4" cy="515.9" r="1.85"/>
<circle cx="117.4" cy="509.4" r="1.85"/>
<circle cx="116.5" cy="496.2" r="1.85"/>
<circle cx="118.3" cy="506.6" r="1.85"/>
<circle cx="118.7" cy="499.4" r="1.85"/>
<circle cx="118.2" cy="512.0" r="1.85"/>
<circle cx="117.2" cy="474.7" r="1.85"/>
<circle cx="117.2" cy="455.0" r="1.85"/>
<circle cx="118.9" cy="500.6" r="1.85"/>
<circle cx="114.4" cy="498.6" r="1.85"/>
<circle cx="116.1" cy="499.5" r="1.85"/>
<circle cx="114.6" cy="498.4" r="1.85"/>
<circle cx="118.6" cy="506.0" r="1.85"/>
<circle cx="114.2" cy="502.5" r="1.85"/>
<circle cx="116.9" cy="502.9" r="1.85"/>
<circle cx="115.5" cy="495.6" r="1.85"/>
<circle cx="117.7" cy="509.7" r="1.85"/>
<circle cx="114.9" cy="503.8" r="1.85"/>
<circle cx="115.4" cy="507.6" r="1.85"/>
<circle cx="117.6" cy="496.3" r="1.85"/>
<circle cx="117.2" cy="509.8" r="1.85"/>
<circle cx="115.0" cy="504.5" r="1.85"/>
<circle cx="115.6" cy="506.2" r="1.85"/>
<circle cx="114.5" cy="504.2" r="1.85"/>
<circle cx="117.5" cy="508.8" r="1.85"/>
<circle cx="116.8" cy="470.2" r="1.85"/>
<circle cx="115.4" cy="496.6" r="1.85"/>
<circle cx="118.0" cy="507.9" r="1.85"/>
<circle cx="116.5" cy="516.9" r="1.85"/>
<circle cx="116.0" cy="435.0" r="1.85"/>
<circle cx="116.7" cy="515.4" r="1.85"/>
<circle cx="118.5" cy="498.3" r="1.85"/>
<circle cx="115.3" cy="501.3" r="1.85"/>
<circle cx="117.6" cy="510.6" r="1.85"/>
<circle cx="114.3" cy="499.7" r="1.85"/>
<circle cx="118.2" cy="500.9" r="1.85"/>
<circle cx="116.3" cy="517.0" r="1.85"/>
<circle cx="117.1" cy="496.9" r="1.85"/>
<circle cx="115.9" cy="513.4" r="1.85"/>
<circle cx="117.9" cy="511.1" r="1.85"/>
<circle cx="118.5" cy="508.6" r="1.85"/>
<circle cx="116.8" cy="496.5" r="1.85"/>
<circle cx="116.4" cy="447.0" r="1.85"/>
<circle cx="118.8" cy="506.6" r="1.85"/>
<circle cx="115.6" cy="513.8" r="1.85"/>
<circle cx="117.4" cy="515.1" r="1.85"/>
<circle cx="118.7" cy="499.8" r="1.85"/>
<circle cx="115.9" cy="501.8" r="1.85"/>
<circle cx="118.0" cy="507.1" r="1.85"/>
<circle cx="116.0" cy="509.2" r="1.85"/>
<circle cx="116.2" cy="446.4" r="1.85"/>
<circle cx="117.1" cy="502.7" r="1.85"/>
<circle cx="117.3" cy="510.8" r="1.85"/>
<circle cx="118.7" cy="505.6" r="1.85"/>
<circle cx="115.6" cy="506.4" r="1.85"/>
<circle cx="118.7" cy="500.3" r="1.85"/>
<circle cx="117.3" cy="507.2" r="1.85"/>
<circle cx="116.5" cy="500.1" r="1.85"/>
<circle cx="116.7" cy="503.9" r="1.85"/>
<circle cx="118.3" cy="505.2" r="1.85"/>
<circle cx="114.7" cy="496.1" r="1.85"/>
<circle cx="116.5" cy="495.3" r="1.85"/>
<circle cx="116.0" cy="502.2" r="1.85"/>
<circle cx="117.0" cy="491.8" r="1.85"/>
<circle cx="116.5" cy="493.7" r="1.85"/>
<circle cx="115.3" cy="512.9" r="1.85"/>
<circle cx="116.2" cy="511.7" r="1.85"/>
<circle cx="116.6" cy="492.8" r="1.85"/>
<circle cx="118.7" cy="505.4" r="1.85"/>
<circle cx="117.0" cy="457.7" r="1.85"/>
<circle cx="116.1" cy="512.4" r="1.85"/>
<circle cx="116.5" cy="486.0" r="1.85"/>
<circle cx="117.0" cy="504.1" r="1.85"/>
<circle cx="116.0" cy="497.7" r="1.85"/>
<circle cx="117.8" cy="499.2" r="1.85"/>
<circle cx="114.7" cy="506.1" r="1.85"/>
<circle cx="115.1" cy="498.0" r="1.85"/>
<circle cx="114.6" cy="509.6" r="1.85"/>
<circle cx="115.1" cy="499.0" r="1.85"/>
<circle cx="118.3" cy="497.6" r="1.85"/>
<circle cx="118.5" cy="508.0" r="1.85"/>
<circle cx="114.6" cy="508.4" r="1.85"/>
<circle cx="118.8" cy="503.6" r="1.85"/>
<circle cx="114.9" cy="503.2" r="1.85"/>
<circle cx="118.0" cy="497.3" r="1.85"/>
<circle cx="116.5" cy="509.9" r="1.85"/>
<circle cx="116.2" cy="494.0" r="1.85"/>
<circle cx="116.8" cy="460.0" r="1.85"/>
<circle cx="116.7" cy="496.0" r="1.85"/>
<circle cx="116.8" cy="516.4" r="1.85"/>
<circle cx="116.8" cy="463.0" r="1.85"/>
<circle cx="115.7" cy="513.1" r="1.85"/>
<circle cx="117.5" cy="512.2" r="1.85"/>
<circle cx="115.9" cy="494.3" r="1.85"/>
<circle cx="115.3" cy="511.6" r="1.85"/>
<circle cx="119.0" cy="501.1" r="1.85"/>
<circle cx="117.3" cy="507.7" r="1.85"/>
<circle cx="114.5" cy="505.9" r="1.85"/>
<circle cx="114.4" cy="502.1" r="1.85"/>
<circle cx="116.4" cy="502.8" r="1.85"/>
<circle cx="114.9" cy="503.8" r="1.85"/>
<circle cx="115.5" cy="509.0" r="1.85"/>
<circle cx="118.1" cy="495.2" r="1.85"/>
<circle cx="115.4" cy="503.3" r="1.85"/>
<circle cx="114.8" cy="507.5" r="1.85"/>
<circle cx="118.5" cy="497.8" r="1.85"/>
<circle cx="116.8" cy="438.2" r="1.85"/>
<circle cx="117.2" cy="495.9" r="1.85"/>
<circle cx="116.4" cy="514.3" r="1.85"/>
<circle cx="116.6" cy="496.7" r="1.85"/>
<circle cx="116.5" cy="490.2" r="1.85"/>
<circle cx="116.8" cy="487.9" r="1.85"/>
<circle cx="116.6" cy="500.4" r="1.85"/>
<circle cx="116.4" cy="501.3" r="1.85"/>
<circle cx="115.3" cy="513.6" r="1.85"/>
<circle cx="116.7" cy="500.1" r="1.85"/>
<circle cx="115.6" cy="514.4" r="1.85"/>
<circle cx="116.8" cy="514.7" r="1.85"/>
<circle cx="115.3" cy="500.8" r="1.85"/>
<circle cx="114.9" cy="495.7" r="1.85"/>
<circle cx="115.3" cy="498.6" r="1.85"/>
<circle cx="116.6" cy="484.7" r="1.85"/>
<circle cx="115.5" cy="494.9" r="1.85"/>
<circle cx="116.4" cy="491.6" r="1.85"/>
<circle cx="118.8" cy="501.4" r="1.85"/>
<circle cx="118.0" cy="510.1" r="1.85"/>
<circle cx="116.2" cy="505.7" r="1.85"/>
<circle cx="116.7" cy="509.4" r="1.85"/>
<circle cx="115.4" cy="511.3" r="1.85"/>
<circle cx="116.4" cy="486.4" r="1.85"/>
<circle cx="117.0" cy="499.2" r="1.85"/>
<circle cx="115.9" cy="493.6" r="1.85"/>
<circle cx="118.7" cy="511.0" r="1.85"/>
<circle cx="116.4" cy="514.2" r="1.85"/>
<circle cx="118.2" cy="507.0" r="1.85"/>
<circle cx="116.3" cy="511.4" r="1.85"/>
<circle cx="116.2" cy="494.7" r="1.85"/>
<circle cx="117.1" cy="498.2" r="1.85"/>
<circle cx="115.2" cy="501.0" r="1.85"/>
<circle cx="115.7" cy="513.2" r="1.85"/>
<circle cx="118.1" cy="502.4" r="1.85"/>
</g>
<path d="M116.6 478.0V495.6M116.6 509.0V517.8" stroke="#000" stroke-width="1.10" fill="none"/>
<rect x="107.9" y="495.6" width="17.4" height="13.4" fill="none" stroke="#b21a45" stroke-width="1.25"/>
<path d="M107.9 504.2H125.3" stroke="#b21a45" stroke-width="1.25"/>
<g fill="#000" fill-opacity="0.32">
<circle cx="152.0" cy="518.4" r="1.85"/>
<circle cx="151.8" cy="498.8" r="1.85"/>
<circle cx="154.9" cy="506.0" r="1.85"/>
<circle cx="150.5" cy="512.1" r="1.85"/>
<circle cx="153.7" cy="509.9" r="1.85"/>
<circle cx="151.6" cy="517.8" r="1.85"/>
<circle cx="151.9" cy="500.3" r="1.85"/>
<circle cx="151.4" cy="503.1" r="1.85"/>
<circle cx="153.6" cy="510.8" r="1.85"/>
<circle cx="151.9" cy="513.8" r="1.85"/>
<circle cx="150.5" cy="499.6" r="1.85"/>
<circle cx="151.2" cy="502.6" r="1.85"/>
<circle cx="154.5" cy="510.4" r="1.85"/>
<circle cx="153.9" cy="508.4" r="1.85"/>
<circle cx="149.5" cy="501.8" r="1.85"/>
<circle cx="153.4" cy="505.5" r="1.85"/>
<circle cx="150.1" cy="503.8" r="1.85"/>
<circle cx="151.0" cy="515.1" r="1.85"/>
<circle cx="153.9" cy="511.6" r="1.85"/>
<circle cx="153.6" cy="504.8" r="1.85"/>
<circle cx="152.7" cy="500.0" r="1.85"/>
<circle cx="150.8" cy="515.7" r="1.85"/>
<circle cx="150.6" cy="506.4" r="1.85"/>
<circle cx="153.4" cy="517.2" r="1.85"/>
<circle cx="151.8" cy="507.2" r="1.85"/>
<circle cx="152.2" cy="496.6" r="1.85"/>
<circle cx="151.6" cy="497.3" r="1.85"/>
<circle cx="152.8" cy="496.3" r="1.85"/>
<circle cx="153.9" cy="508.6" r="1.85"/>
<circle cx="152.6" cy="511.0" r="1.85"/>
<circle cx="150.4" cy="504.7" r="1.85"/>
<circle cx="153.9" cy="501.8" r="1.85"/>
<circle cx="150.2" cy="510.1" r="1.85"/>
<circle cx="153.4" cy="506.6" r="1.85"/>
<circle cx="151.6" cy="500.9" r="1.85"/>
<circle cx="149.6" cy="504.0" r="1.85"/>
<circle cx="152.1" cy="502.0" r="1.85"/>
<circle cx="154.4" cy="505.0" r="1.85"/>
<circle cx="153.3" cy="500.7" r="1.85"/>
<circle cx="151.7" cy="512.7" r="1.85"/>
<circle cx="154.9" cy="509.0" r="1.85"/>
<circle cx="152.2" cy="494.8" r="1.85"/>
<circle cx="151.1" cy="509.3" r="1.85"/>
<circle cx="152.0" cy="494.4" r="1.85"/>
<circle cx="153.7" cy="513.9" r="1.85"/>
<circle cx="150.9" cy="503.3" r="1.85"/>
<circle cx="152.4" cy="500.5" r="1.85"/>
<circle cx="152.1" cy="516.6" r="1.85"/>
<circle cx="154.0" cy="503.8" r="1.85"/>
<circle cx="153.6" cy="510.6" r="1.85"/>
<circle cx="149.3" cy="508.6" r="1.85"/>
<circle cx="150.8" cy="510.0" r="1.85"/>
<circle cx="153.0" cy="514.3" r="1.85"/>
<circle cx="151.4" cy="512.6" r="1.85"/>
<circle cx="150.0" cy="505.4" r="1.85"/>
<circle cx="152.9" cy="516.8" r="1.85"/>
<circle cx="154.5" cy="502.2" r="1.85"/>
<circle cx="151.8" cy="498.6" r="1.85"/>
<circle cx="153.4" cy="499.4" r="1.85"/>
<circle cx="152.8" cy="512.5" r="1.85"/>
<circle cx="151.3" cy="500.4" r="1.85"/>
<circle cx="150.3" cy="506.7" r="1.85"/>
<circle cx="149.6" cy="507.0" r="1.85"/>
<circle cx="152.9" cy="496.8" r="1.85"/>
<circle cx="151.8" cy="515.3" r="1.85"/>
<circle cx="149.8" cy="504.5" r="1.85"/>
<circle cx="153.7" cy="505.1" r="1.85"/>
<circle cx="153.3" cy="508.2" r="1.85"/>
<circle cx="151.2" cy="503.3" r="1.85"/>
<circle cx="152.1" cy="515.8" r="1.85"/>
<circle cx="152.9" cy="509.2" r="1.85"/>
<circle cx="151.7" cy="508.7" r="1.85"/>
<circle cx="153.5" cy="511.3" r="1.85"/>
<circle cx="152.1" cy="492.7" r="1.85"/>
<circle cx="154.8" cy="504.3" r="1.85"/>
<circle cx="150.8" cy="516.3" r="1.85"/>
<circle cx="153.5" cy="508.9" r="1.85"/>
<circle cx="152.4" cy="502.3" r="1.85"/>
<circle cx="149.9" cy="510.5" r="1.85"/>
<circle cx="150.3" cy="508.1" r="1.85"/>
<circle cx="152.3" cy="508.5" r="1.85"/>
<circle cx="152.6" cy="510.9" r="1.85"/>
<circle cx="154.7" cy="502.4" r="1.85"/>
<circle cx="152.9" cy="500.6" r="1.85"/>
<circle cx="153.6" cy="504.1" r="1.85"/>
<circle cx="152.8" cy="516.6" r="1.85"/>
<circle cx="154.6" cy="509.4" r="1.85"/>
<circle cx="155.0" cy="506.1" r="1.85"/>
<circle cx="152.1" cy="510.2" r="1.85"/>
<circle cx="153.4" cy="498.4" r="1.85"/>
<circle cx="153.5" cy="504.2" r="1.85"/>
<circle cx="151.5" cy="504.9" r="1.85"/>
<circle cx="150.2" cy="505.7" r="1.85"/>
<circle cx="152.8" cy="502.7" r="1.85"/>
<circle cx="151.9" cy="518.7" r="1.85"/>
<circle cx="154.3" cy="504.8" r="1.85"/>
<circle cx="149.5" cy="507.2" r="1.85"/>
<circle cx="151.2" cy="498.0" r="1.85"/>
<circle cx="153.9" cy="502.7" r="1.85"/>
<circle cx="152.5" cy="485.1" r="1.85"/>
<circle cx="153.3" cy="509.8" r="1.85"/>
<circle cx="153.1" cy="501.2" r="1.85"/>
<circle cx="152.0" cy="498.4" r="1.85"/>
<circle cx="154.0" cy="508.3" r="1.85"/>
<circle cx="150.4" cy="503.6" r="1.85"/>
<circle cx="151.3" cy="506.9" r="1.85"/>
<circle cx="154.1" cy="503.4" r="1.85"/>
<circle cx="153.3" cy="516.1" r="1.85"/>
<circle cx="152.8" cy="512.1" r="1.85"/>
<circle cx="152.8" cy="510.1" r="1.85"/>
<circle cx="154.8" cy="507.8" r="1.85"/>
<circle cx="153.2" cy="511.8" r="1.85"/>
<circle cx="149.4" cy="505.5" r="1.85"/>
<circle cx="150.4" cy="511.6" r="1.85"/>
<circle cx="151.8" cy="506.2" r="1.85"/>
<circle cx="151.7" cy="508.9" r="1.85"/>
<circle cx="153.0" cy="502.4" r="1.85"/>
<circle cx="153.9" cy="500.1" r="1.85"/>
<circle cx="149.9" cy="505.6" r="1.85"/>
<circle cx="154.7" cy="504.4" r="1.85"/>
<circle cx="150.8" cy="506.3" r="1.85"/>
<circle cx="152.4" cy="497.5" r="1.85"/>
<circle cx="154.4" cy="501.7" r="1.85"/>
<circle cx="154.4" cy="507.5" r="1.85"/>
<circle cx="152.8" cy="507.6" r="1.85"/>
<circle cx="153.9" cy="509.5" r="1.85"/>
<circle cx="152.1" cy="495.9" r="1.85"/>
<circle cx="151.9" cy="495.5" r="1.85"/>
<circle cx="152.8" cy="514.5" r="1.85"/>
<circle cx="151.9" cy="511.6" r="1.85"/>
<circle cx="152.2" cy="483.0" r="1.85"/>
<circle cx="154.5" cy="510.5" r="1.85"/>
<circle cx="151.5" cy="508.1" r="1.85"/>
<circle cx="154.3" cy="510.9" r="1.85"/>
<circle cx="154.9" cy="509.1" r="1.85"/>
<circle cx="151.1" cy="499.2" r="1.85"/>
<circle cx="151.2" cy="501.9" r="1.85"/>
<circle cx="151.1" cy="511.4" r="1.85"/>
<circle cx="151.7" cy="501.5" r="1.85"/>
<circle cx="152.0" cy="494.2" r="1.85"/>
<circle cx="152.6" cy="501.1" r="1.85"/>
<circle cx="153.3" cy="507.1" r="1.85"/>
<circle cx="150.8" cy="504.0" r="1.85"/>
<circle cx="152.9" cy="517.5" r="1.85"/>
<circle cx="154.2" cy="510.2" r="1.85"/>
<circle cx="153.4" cy="516.1" r="1.85"/>
<circle cx="151.6" cy="507.7" r="1.85"/>
<circle cx="150.3" cy="511.4" r="1.85"/>
<circle cx="150.8" cy="502.9" r="1.85"/>
<circle cx="152.0" cy="498.8" r="1.85"/>
<circle cx="149.6" cy="505.3" r="1.85"/>
<circle cx="152.2" cy="497.0" r="1.85"/>
<circle cx="153.4" cy="513.7" r="1.85"/>
<circle cx="152.1" cy="492.3" r="1.85"/>
<circle cx="154.6" cy="507.9" r="1.85"/>
<circle cx="154.5" cy="501.3" r="1.85"/>
<circle cx="153.3" cy="513.3" r="1.85"/>
<circle cx="151.5" cy="503.0" r="1.85"/>
<circle cx="152.2" cy="512.3" r="1.85"/>
<circle cx="151.4" cy="502.1" r="1.85"/>
<circle cx="151.3" cy="517.4" r="1.85"/>
<circle cx="150.3" cy="506.6" r="1.85"/>
<circle cx="150.2" cy="506.7" r="1.85"/>
<circle cx="153.9" cy="513.0" r="1.85"/>
<circle cx="152.7" cy="498.1" r="1.85"/>
<circle cx="152.4" cy="513.2" r="1.85"/>
<circle cx="150.1" cy="501.7" r="1.85"/>
<circle cx="151.9" cy="493.5" r="1.85"/>
<circle cx="155.0" cy="505.2" r="1.85"/>
<circle cx="151.5" cy="497.8" r="1.85"/>
<circle cx="153.8" cy="512.9" r="1.85"/>
<circle cx="151.3" cy="502.2" r="1.85"/>
<circle cx="154.6" cy="503.1" r="1.85"/>
<circle cx="152.4" cy="503.2" r="1.85"/>
<circle cx="155.1" cy="509.7" r="1.85"/>
<circle cx="152.7" cy="481.4" r="1.85"/>
<circle cx="151.4" cy="501.3" r="1.85"/>
<circle cx="150.9" cy="510.3" r="1.85"/>
<circle cx="153.9" cy="501.0" r="1.85"/>
<circle cx="150.9" cy="509.4" r="1.85"/>
<circle cx="151.5" cy="509.3" r="1.85"/>
<circle cx="153.9" cy="507.3" r="1.85"/>
<circle cx="153.2" cy="515.6" r="1.85"/>
<circle cx="152.6" cy="508.8" r="1.85"/>
<circle cx="150.9" cy="516.0" r="1.85"/>
<circle cx="154.6" cy="504.2" r="1.85"/>
<circle cx="151.1" cy="509.9" r="1.85"/>
<circle cx="153.0" cy="515.0" r="1.85"/>
<circle cx="152.1" cy="513.5" r="1.85"/>
<circle cx="151.1" cy="512.4" r="1.85"/>
<circle cx="153.2" cy="508.8" r="1.85"/>
<circle cx="150.3" cy="505.8" r="1.85"/>
<circle cx="151.1" cy="511.9" r="1.85"/>
<circle cx="151.9" cy="488.4" r="1.85"/>
<circle cx="152.8" cy="505.9" r="1.85"/>
<circle cx="150.5" cy="501.6" r="1.85"/>
<circle cx="150.7" cy="514.7" r="1.85"/>
<circle cx="152.2" cy="495.8" r="1.85"/>
<circle cx="150.2" cy="511.2" r="1.85"/>
<circle cx="151.7" cy="517.0" r="1.85"/>
<circle cx="153.6" cy="501.0" r="1.85"/>
<circle cx="152.6" cy="507.4" r="1.85"/>
<circle cx="154.3" cy="507.8" r="1.85"/>
<circle cx="152.1" cy="516.5" r="1.85"/>
<circle cx="153.7" cy="512.8" r="1.85"/>
<circle cx="151.4" cy="502.9" r="1.85"/>
<circle cx="152.6" cy="508.0" r="1.85"/>
<circle cx="151.9" cy="513.1" r="1.85"/>
<circle cx="151.0" cy="514.3" r="1.85"/>
<circle cx="152.4" cy="499.5" r="1.85"/>
<circle cx="154.7" cy="504.5" r="1.85"/>
<circle cx="153.1" cy="513.4" r="1.85"/>
<circle cx="152.8" cy="499.0" r="1.85"/>
<circle cx="150.6" cy="503.9" r="1.85"/>
<circle cx="151.4" cy="515.4" r="1.85"/>
<circle cx="149.6" cy="503.7" r="1.85"/>
<circle cx="150.1" cy="508.0" r="1.85"/>
<circle cx="151.8" cy="511.0" r="1.85"/>
<circle cx="155.1" cy="506.5" r="1.85"/>
<circle cx="153.8" cy="514.7" r="1.85"/>
<circle cx="151.9" cy="499.1" r="1.85"/>
<circle cx="152.5" cy="504.4" r="1.85"/>
<circle cx="151.3" cy="507.6" r="1.85"/>
<circle cx="151.5" cy="502.7" r="1.85"/>
<circle cx="155.0" cy="506.4" r="1.85"/>
<circle cx="152.1" cy="514.0" r="1.85"/>
<circle cx="151.4" cy="517.2" r="1.85"/>
<circle cx="151.8" cy="500.2" r="1.85"/>
<circle cx="150.5" cy="500.8" r="1.85"/>
<circle cx="152.2" cy="518.1" r="1.85"/>
<circle cx="149.8" cy="504.9" r="1.85"/>
<circle cx="153.3" cy="503.5" r="1.85"/>
<circle cx="151.9" cy="507.4" r="1.85"/>
<circle cx="153.4" cy="499.7" r="1.85"/>
<circle cx="154.1" cy="509.6" r="1.85"/>
<circle cx="153.6" cy="506.9" r="1.85"/>
<circle cx="154.3" cy="500.8" r="1.85"/>
<circle cx="152.1" cy="502.5" r="1.85"/>
<circle cx="152.6" cy="515.2" r="1.85"/>
<circle cx="151.4" cy="517.7" r="1.85"/>
<circle cx="152.4" cy="507.0" r="1.85"/>
<circle cx="153.1" cy="512.3" r="1.85"/>
<circle cx="151.6" cy="506.2" r="1.85"/>
<circle cx="153.2" cy="505.9" r="1.85"/>
<circle cx="154.7" cy="509.1" r="1.85"/>
<circle cx="152.2" cy="502.0" r="1.85"/>
<circle cx="151.8" cy="504.6" r="1.85"/>
<circle cx="150.3" cy="510.6" r="1.85"/>
<circle cx="151.4" cy="497.6" r="1.85"/>
<circle cx="153.9" cy="509.6" r="1.85"/>
<circle cx="150.2" cy="503.4" r="1.85"/>
<circle cx="153.2" cy="512.0" r="1.85"/>
<circle cx="151.4" cy="506.1" r="1.85"/>
<circle cx="152.3" cy="514.9" r="1.85"/>
<circle cx="152.8" cy="505.2" r="1.85"/>
<circle cx="152.5" cy="501.4" r="1.85"/>
<circle cx="149.5" cy="505.3" r="1.85"/>
<circle cx="150.9" cy="514.1" r="1.85"/>
<circle cx="154.3" cy="511.2" r="1.85"/>
<circle cx="151.6" cy="499.9" r="1.85"/>
<circle cx="149.3" cy="508.3" r="1.85"/>
<circle cx="149.4" cy="503.6" r="1.85"/>
<circle cx="153.0" cy="505.6" r="1.85"/>
<circle cx="153.1" cy="499.8" r="1.85"/>
</g>
<path d="M152.2 491.6V501.4M152.2 510.2V519.0" stroke="#000" stroke-width="1.10" fill="none"/>
<rect x="143.5" y="501.4" width="17.4" height="8.8" fill="none" stroke="#b21a45" stroke-width="1.25"/>
<path d="M143.5 506.3H160.9" stroke="#b21a45" stroke-width="1.25"/>
<rect x="59.8" y="347.3" width="113.6" height="178.5" fill="none" stroke="#1a1a1a" stroke-width="1.3"/>
<text x="116.6" y="365.2" font-size="8.05" text-anchor="middle" fill="#000" >Anova, p = 9.5e−09</text>
<path d="M116.5 389.0V384.5H151.9V389.0" fill="none" stroke="#1a1a1a" stroke-width="1.1"/>
<text x="134.2" y="385.1" font-size="8.20" text-anchor="middle" fill="#000" font-weight="bold" class="ng">***</text>
<path d="M81.1 525.8V528.8" stroke="#1a1a1a" stroke-width="1"/>
<path d="M116.5 525.8V528.8" stroke="#1a1a1a" stroke-width="1"/>
<path d="M151.9 525.8V528.8" stroke="#1a1a1a" stroke-width="1"/>
<rect x="179.3" y="347.3" width="78.0" height="178.5" fill="#fff"/>
<g fill="#000" fill-opacity="0.32">
<circle cx="200.2" cy="478.3" r="1.85"/>
<circle cx="201.8" cy="469.0" r="1.85"/>
<circle cx="201.0" cy="467.5" r="1.85"/>
<circle cx="201.1" cy="502.8" r="1.85"/>
<circle cx="199.2" cy="468.3" r="1.85"/>
<circle cx="199.2" cy="485.8" r="1.85"/>
<circle cx="199.7" cy="502.3" r="1.85"/>
<circle cx="199.5" cy="482.9" r="1.85"/>
<circle cx="200.3" cy="465.0" r="1.85"/>
<circle cx="201.0" cy="463.3" r="1.85"/>
<circle cx="202.1" cy="495.0" r="1.85"/>
<circle cx="201.1" cy="493.3" r="1.85"/>
<circle cx="200.0" cy="496.7" r="1.85"/>
<circle cx="198.9" cy="474.8" r="1.85"/>
<circle cx="199.4" cy="459.8" r="1.85"/>
<circle cx="199.6" cy="476.5" r="1.85"/>
</g>
<path d="M200.5 459.8V469.0M200.5 495.2V502.8" stroke="#000" stroke-width="1.10" fill="none"/>
<rect x="191.8" y="469.0" width="17.4" height="26.2" fill="none" stroke="#b21a45" stroke-width="1.25"/>
<path d="M191.8 478.3H209.2" stroke="#b21a45" stroke-width="1.25"/>
<g fill="#000" fill-opacity="0.32">
<circle cx="234.2" cy="500.2" r="1.85"/>
<circle cx="235.6" cy="498.6" r="1.85"/>
<circle cx="237.6" cy="502.9" r="1.85"/>
<circle cx="235.7" cy="488.2" r="1.85"/>
<circle cx="236.2" cy="471.7" r="1.85"/>
<circle cx="234.9" cy="505.7" r="1.85"/>
<circle cx="236.3" cy="498.8" r="1.85"/>
<circle cx="236.0" cy="490.5" r="1.85"/>
<circle cx="236.0" cy="486.3" r="1.85"/>
<circle cx="236.0" cy="495.3" r="1.85"/>
<circle cx="235.6" cy="481.1" r="1.85"/>
<circle cx="236.3" cy="478.3" r="1.85"/>
<circle cx="235.3" cy="501.5" r="1.85"/>
<circle cx="236.4" cy="484.2" r="1.85"/>
<circle cx="233.9" cy="499.2" r="1.85"/>
<circle cx="237.1" cy="489.6" r="1.85"/>
<circle cx="236.7" cy="505.2" r="1.85"/>
<circle cx="236.3" cy="496.2" r="1.85"/>
<circle cx="236.2" cy="510.7" r="1.85"/>
<circle cx="236.8" cy="502.3" r="1.85"/>
<circle cx="236.5" cy="492.4" r="1.85"/>
<circle cx="234.4" cy="497.4" r="1.85"/>
<circle cx="236.9" cy="489.1" r="1.85"/>
<circle cx="236.8" cy="487.0" r="1.85"/>
<circle cx="237.5" cy="489.0" r="1.85"/>
<circle cx="235.8" cy="501.8" r="1.85"/>
<circle cx="235.3" cy="504.6" r="1.85"/>
<circle cx="237.4" cy="496.0" r="1.85"/>
<circle cx="235.7" cy="500.9" r="1.85"/>
<circle cx="236.1" cy="503.3" r="1.85"/>
<circle cx="235.5" cy="506.6" r="1.85"/>
<circle cx="236.1" cy="503.7" r="1.85"/>
<circle cx="236.5" cy="497.2" r="1.85"/>
<circle cx="236.1" cy="482.1" r="1.85"/>
<circle cx="235.6" cy="494.4" r="1.85"/>
<circle cx="235.3" cy="480.3" r="1.85"/>
<circle cx="236.2" cy="509.1" r="1.85"/>
<circle cx="235.0" cy="493.8" r="1.85"/>
<circle cx="235.0" cy="499.9" r="1.85"/>
<circle cx="235.1" cy="491.5" r="1.85"/>
<circle cx="235.4" cy="491.3" r="1.85"/>
<circle cx="235.6" cy="508.7" r="1.85"/>
<circle cx="236.3" cy="512.3" r="1.85"/>
<circle cx="236.3" cy="485.1" r="1.85"/>
<circle cx="233.8" cy="497.9" r="1.85"/>
<circle cx="236.5" cy="500.8" r="1.85"/>
</g>
<path d="M235.9 477.5V489.8M235.9 501.1V514.0" stroke="#000" stroke-width="1.10" fill="none"/>
<rect x="227.2" y="489.8" width="17.4" height="11.3" fill="none" stroke="#b21a45" stroke-width="1.25"/>
<path d="M227.2 495.3H244.6" stroke="#b21a45" stroke-width="1.25"/>
<rect x="179.3" y="347.3" width="78.0" height="178.5" fill="none" stroke="#1a1a1a" stroke-width="1.3"/>
<text x="218.3" y="365.2" font-size="8.05" text-anchor="middle" fill="#000" >Anova, p = 3e−04</text>
<path d="M200.5 525.8V528.8" stroke="#1a1a1a" stroke-width="1"/>
<path d="M235.9 525.8V528.8" stroke="#1a1a1a" stroke-width="1"/>
<rect x="263.0" y="347.3" width="113.5" height="178.5" fill="#fff"/>
<g fill="#000" fill-opacity="0.32">
<circle cx="284.5" cy="397.3" r="1.85"/>
<circle cx="283.7" cy="433.7" r="1.85"/>
<circle cx="284.3" cy="480.1" r="1.85"/>
<circle cx="284.9" cy="469.0" r="1.85"/>
<circle cx="285.3" cy="491.6" r="1.85"/>
<circle cx="283.4" cy="478.2" r="1.85"/>
<circle cx="284.0" cy="482.5" r="1.85"/>
<circle cx="283.8" cy="506.6" r="1.85"/>
<circle cx="283.8" cy="477.8" r="1.85"/>
<circle cx="282.3" cy="500.8" r="1.85"/>
<circle cx="285.0" cy="484.5" r="1.85"/>
<circle cx="285.4" cy="471.8" r="1.85"/>
<circle cx="285.3" cy="483.2" r="1.85"/>
<circle cx="283.8" cy="476.2" r="1.85"/>
<circle cx="286.4" cy="488.2" r="1.85"/>
<circle cx="286.5" cy="490.4" r="1.85"/>
<circle cx="284.1" cy="462.0" r="1.85"/>
<circle cx="283.9" cy="501.9" r="1.85"/>
<circle cx="285.7" cy="493.7" r="1.85"/>
<circle cx="285.7" cy="499.1" r="1.85"/>
<circle cx="285.4" cy="491.1" r="1.85"/>
<circle cx="286.4" cy="489.6" r="1.85"/>
<circle cx="283.0" cy="499.3" r="1.85"/>
<circle cx="283.1" cy="474.6" r="1.85"/>
<circle cx="282.9" cy="479.3" r="1.85"/>
<circle cx="284.0" cy="485.5" r="1.85"/>
<circle cx="284.0" cy="503.5" r="1.85"/>
<circle cx="282.5" cy="497.9" r="1.85"/>
<circle cx="284.9" cy="479.7" r="1.85"/>
<circle cx="282.3" cy="474.0" r="1.85"/>
<circle cx="282.5" cy="489.2" r="1.85"/>
<circle cx="283.7" cy="505.6" r="1.85"/>
<circle cx="283.5" cy="475.3" r="1.85"/>
<circle cx="285.7" cy="503.8" r="1.85"/>
<circle cx="284.0" cy="483.8" r="1.85"/>
<circle cx="284.9" cy="496.6" r="1.85"/>
<circle cx="284.7" cy="486.1" r="1.85"/>
<circle cx="282.6" cy="486.4" r="1.85"/>
<circle cx="284.0" cy="487.6" r="1.85"/>
<circle cx="283.2" cy="481.6" r="1.85"/>
<circle cx="284.4" cy="480.8" r="1.85"/>
<circle cx="285.6" cy="495.3" r="1.85"/>
<circle cx="281.8" cy="484.0" r="1.85"/>
<circle cx="284.7" cy="487.1" r="1.85"/>
<circle cx="284.9" cy="476.9" r="1.85"/>
<circle cx="286.1" cy="492.2" r="1.85"/>
<circle cx="283.5" cy="494.9" r="1.85"/>
</g>
<path d="M284.2 444.9V473.6M284.2 493.0V507.8" stroke="#000" stroke-width="1.10" fill="none"/>
<rect x="275.5" y="473.6" width="17.4" height="19.4" fill="none" stroke="#b21a45" stroke-width="1.25"/>
<path d="M275.5 484.5H292.9" stroke="#b21a45" stroke-width="1.25"/>
<g fill="#000" fill-opacity="0.32">
<circle cx="319.8" cy="512.9" r="1.85"/>
<circle cx="318.3" cy="510.3" r="1.85"/>
<circle cx="318.6" cy="504.7" r="1.85"/>
<circle cx="320.6" cy="515.3" r="1.85"/>
<circle cx="320.4" cy="508.8" r="1.85"/>
<circle cx="319.0" cy="504.3" r="1.85"/>
<circle cx="320.7" cy="507.9" r="1.85"/>
<circle cx="321.2" cy="505.4" r="1.85"/>
<circle cx="318.9" cy="501.5" r="1.85"/>
<circle cx="321.1" cy="507.0" r="1.85"/>
<circle cx="320.2" cy="508.4" r="1.85"/>
<circle cx="319.6" cy="496.3" r="1.85"/>
<circle cx="318.8" cy="515.8" r="1.85"/>
<circle cx="319.0" cy="509.6" r="1.85"/>
<circle cx="320.8" cy="511.5" r="1.85"/>
<circle cx="320.0" cy="501.2" r="1.85"/>
<circle cx="320.6" cy="505.9" r="1.85"/>
<circle cx="319.0" cy="503.0" r="1.85"/>
<circle cx="319.6" cy="512.0" r="1.85"/>
<circle cx="318.5" cy="513.6" r="1.85"/>
<circle cx="319.9" cy="499.9" r="1.85"/>
<circle cx="318.2" cy="514.3" r="1.85"/>
</g>
<path d="M319.6 495.8V504.6M319.6 513.2V517.0" stroke="#000" stroke-width="1.10" fill="none"/>
<rect x="310.9" y="504.6" width="17.4" height="8.6" fill="none" stroke="#b21a45" stroke-width="1.25"/>
<path d="M310.9 510.8H328.3" stroke="#b21a45" stroke-width="1.25"/>
<g fill="#000" fill-opacity="0.32">
<circle cx="356.5" cy="496.0" r="1.85"/>
<circle cx="356.1" cy="504.8" r="1.85"/>
<circle cx="354.1" cy="514.1" r="1.85"/>
<circle cx="355.3" cy="463.6" r="1.85"/>
<circle cx="357.2" cy="495.5" r="1.85"/>
<circle cx="352.9" cy="513.0" r="1.85"/>
<circle cx="352.4" cy="496.8" r="1.85"/>
<circle cx="356.9" cy="492.8" r="1.85"/>
<circle cx="357.5" cy="494.0" r="1.85"/>
<circle cx="357.6" cy="503.4" r="1.85"/>
<circle cx="354.7" cy="505.5" r="1.85"/>
<circle cx="353.5" cy="489.2" r="1.85"/>
<circle cx="354.4" cy="485.9" r="1.85"/>
<circle cx="355.2" cy="510.4" r="1.85"/>
<circle cx="353.2" cy="506.5" r="1.85"/>
<circle cx="356.7" cy="490.4" r="1.85"/>
<circle cx="357.2" cy="507.5" r="1.85"/>
<circle cx="355.5" cy="491.1" r="1.85"/>
<circle cx="353.8" cy="501.3" r="1.85"/>
<circle cx="354.2" cy="497.4" r="1.85"/>
<circle cx="356.0" cy="516.3" r="1.85"/>
<circle cx="354.1" cy="489.7" r="1.85"/>
<circle cx="355.4" cy="474.8" r="1.85"/>
<circle cx="353.2" cy="512.7" r="1.85"/>
<circle cx="355.6" cy="515.6" r="1.85"/>
<circle cx="355.7" cy="516.0" r="1.85"/>
<circle cx="353.5" cy="497.2" r="1.85"/>
<circle cx="355.1" cy="504.2" r="1.85"/>
<circle cx="356.3" cy="481.7" r="1.85"/>
<circle cx="356.6" cy="495.4" r="1.85"/>
<circle cx="353.8" cy="506.1" r="1.85"/>
<circle cx="353.8" cy="493.0" r="1.85"/>
<circle cx="353.8" cy="492.5" r="1.85"/>
<circle cx="353.9" cy="489.9" r="1.85"/>
<circle cx="354.5" cy="508.9" r="1.85"/>
<circle cx="357.8" cy="503.9" r="1.85"/>
<circle cx="356.4" cy="510.0" r="1.85"/>
<circle cx="354.6" cy="487.3" r="1.85"/>
<circle cx="357.6" cy="513.7" r="1.85"/>
<circle cx="356.5" cy="514.2" r="1.85"/>
<circle cx="356.0" cy="498.3" r="1.85"/>
<circle cx="354.8" cy="496.2" r="1.85"/>
<circle cx="352.7" cy="511.3" r="1.85"/>
<circle cx="353.5" cy="503.0" r="1.85"/>
<circle cx="355.3" cy="483.9" r="1.85"/>
<circle cx="355.9" cy="508.1" r="1.85"/>
<circle cx="353.0" cy="504.4" r="1.85"/>
<circle cx="355.9" cy="513.2" r="1.85"/>
<circle cx="352.4" cy="505.7" r="1.85"/>
<circle cx="352.6" cy="502.8" r="1.85"/>
<circle cx="357.2" cy="491.6" r="1.85"/>
<circle cx="353.5" cy="491.9" r="1.85"/>
<circle cx="357.4" cy="502.0" r="1.85"/>
<circle cx="355.0" cy="472.0" r="1.85"/>
<circle cx="356.8" cy="499.5" r="1.85"/>
<circle cx="354.0" cy="497.6" r="1.85"/>
<circle cx="353.5" cy="494.2" r="1.85"/>
<circle cx="352.5" cy="511.2" r="1.85"/>
<circle cx="354.4" cy="509.7" r="1.85"/>
<circle cx="355.1" cy="446.3" r="1.85"/>
<circle cx="355.8" cy="499.3" r="1.85"/>
<circle cx="356.9" cy="501.5" r="1.85"/>
<circle cx="355.6" cy="478.6" r="1.85"/>
<circle cx="355.4" cy="482.1" r="1.85"/>
<circle cx="353.6" cy="510.6" r="1.85"/>
<circle cx="352.9" cy="495.7" r="1.85"/>
<circle cx="352.3" cy="509.0" r="1.85"/>
<circle cx="354.1" cy="476.3" r="1.85"/>
<circle cx="356.1" cy="485.1" r="1.85"/>
<circle cx="356.5" cy="499.9" r="1.85"/>
<circle cx="355.9" cy="473.9" r="1.85"/>
<circle cx="353.9" cy="512.0" r="1.85"/>
<circle cx="357.2" cy="488.9" r="1.85"/>
<circle cx="352.3" cy="493.6" r="1.85"/>
<circle cx="357.3" cy="494.6" r="1.85"/>
<circle cx="354.7" cy="507.8" r="1.85"/>
<circle cx="356.1" cy="500.3" r="1.85"/>
<circle cx="352.8" cy="490.8" r="1.85"/>
<circle cx="356.2" cy="512.5" r="1.85"/>
<circle cx="353.4" cy="507.0" r="1.85"/>
<circle cx="353.9" cy="509.6" r="1.85"/>
<circle cx="354.5" cy="498.0" r="1.85"/>
<circle cx="352.4" cy="511.5" r="1.85"/>
<circle cx="356.9" cy="507.1" r="1.85"/>
<circle cx="356.4" cy="517.4" r="1.85"/>
<circle cx="354.6" cy="420.9" r="1.85"/>
<circle cx="356.7" cy="490.1" r="1.85"/>
<circle cx="357.0" cy="514.7" r="1.85"/>
<circle cx="353.6" cy="494.5" r="1.85"/>
<circle cx="356.5" cy="501.1" r="1.85"/>
<circle cx="353.1" cy="508.5" r="1.85"/>
<circle cx="355.0" cy="478.4" r="1.85"/>
<circle cx="355.0" cy="506.4" r="1.85"/>
<circle cx="356.3" cy="488.1" r="1.85"/>
<circle cx="354.6" cy="494.9" r="1.85"/>
<circle cx="357.3" cy="505.2" r="1.85"/>
<circle cx="356.8" cy="512.1" r="1.85"/>
<circle cx="357.3" cy="503.8" r="1.85"/>
<circle cx="354.6" cy="499.1" r="1.85"/>
<circle cx="356.0" cy="515.0" r="1.85"/>
<circle cx="352.6" cy="510.8" r="1.85"/>
<circle cx="357.5" cy="508.4" r="1.85"/>
<circle cx="356.9" cy="502.1" r="1.85"/>
<circle cx="355.0" cy="496.5" r="1.85"/>
<circle cx="353.5" cy="492.1" r="1.85"/>
<circle cx="355.3" cy="498.6" r="1.85"/>
<circle cx="353.3" cy="493.3" r="1.85"/>
<circle cx="355.6" cy="500.6" r="1.85"/>
<circle cx="353.7" cy="487.5" r="1.85"/>
<circle cx="353.5" cy="498.9" r="1.85"/>
<circle cx="355.3" cy="500.7" r="1.85"/>
<circle cx="353.5" cy="502.6" r="1.85"/>
</g>
<path d="M355.1 460.0V490.4M355.1 511.3V517.4" stroke="#000" stroke-width="1.10" fill="none"/>
<rect x="346.4" y="490.4" width="17.4" height="20.9" fill="none" stroke="#b21a45" stroke-width="1.25"/>
<path d="M346.4 498.7H363.8" stroke="#b21a45" stroke-width="1.25"/>
<rect x="263.0" y="347.3" width="113.5" height="178.5" fill="none" stroke="#1a1a1a" stroke-width="1.3"/>
<text x="319.8" y="365.2" font-size="8.05" text-anchor="middle" fill="#000" >Anova, p = 3.2e−08</text>
<path d="M319.8 389.0V384.5H355.0V389.0" fill="none" stroke="#1a1a1a" stroke-width="1.1"/>
<text x="337.4" y="385.1" font-size="8.20" text-anchor="middle" fill="#000" font-weight="bold" class="ng">****</text>
<path d="M284.2 525.8V528.8" stroke="#1a1a1a" stroke-width="1"/>
<path d="M319.8 525.8V528.8" stroke="#1a1a1a" stroke-width="1"/>
<path d="M355.0 525.8V528.8" stroke="#1a1a1a" stroke-width="1"/>
<rect x="382.3" y="347.3" width="113.4" height="178.5" fill="#fff"/>
<g fill="#000" fill-opacity="0.32">
<circle cx="403.2" cy="442.0" r="1.85"/>
<circle cx="404.1" cy="472.3" r="1.85"/>
<circle cx="402.6" cy="482.6" r="1.85"/>
<circle cx="403.6" cy="438.3" r="1.85"/>
<circle cx="404.9" cy="488.6" r="1.85"/>
<circle cx="403.8" cy="514.1" r="1.85"/>
<circle cx="402.9" cy="469.6" r="1.85"/>
<circle cx="403.3" cy="467.6" r="1.85"/>
<circle cx="404.1" cy="494.6" r="1.85"/>
<circle cx="403.0" cy="484.3" r="1.85"/>
<circle cx="402.8" cy="499.3" r="1.85"/>
<circle cx="402.7" cy="481.6" r="1.85"/>
<circle cx="403.8" cy="510.9" r="1.85"/>
<circle cx="403.0" cy="428.2" r="1.85"/>
<circle cx="403.5" cy="513.1" r="1.85"/>
<circle cx="403.7" cy="454.4" r="1.85"/>
<circle cx="403.1" cy="463.5" r="1.85"/>
<circle cx="402.3" cy="475.9" r="1.85"/>
<circle cx="404.5" cy="505.7" r="1.85"/>
<circle cx="402.3" cy="491.4" r="1.85"/>
<circle cx="403.9" cy="508.4" r="1.85"/>
<circle cx="404.8" cy="500.7" r="1.85"/>
<circle cx="401.3" cy="490.0" r="1.85"/>
<circle cx="403.6" cy="496.5" r="1.85"/>
<circle cx="404.1" cy="509.7" r="1.85"/>
<circle cx="404.8" cy="472.0" r="1.85"/>
<circle cx="401.4" cy="485.1" r="1.85"/>
<circle cx="402.4" cy="480.1" r="1.85"/>
<circle cx="404.8" cy="470.9" r="1.85"/>
<circle cx="403.8" cy="465.3" r="1.85"/>
<circle cx="402.9" cy="486.6" r="1.85"/>
<circle cx="401.7" cy="493.2" r="1.85"/>
<circle cx="402.1" cy="473.6" r="1.85"/>
<circle cx="402.7" cy="498.2" r="1.85"/>
<circle cx="403.6" cy="446.7" r="1.85"/>
<circle cx="403.9" cy="461.8" r="1.85"/>
<circle cx="402.2" cy="504.7" r="1.85"/>
<circle cx="404.2" cy="478.6" r="1.85"/>
<circle cx="403.1" cy="486.2" r="1.85"/>
<circle cx="403.6" cy="452.6" r="1.85"/>
<circle cx="402.8" cy="476.2" r="1.85"/>
<circle cx="404.6" cy="503.5" r="1.85"/>
<circle cx="403.7" cy="475.2" r="1.85"/>
<circle cx="402.0" cy="506.4" r="1.85"/>
<circle cx="404.7" cy="482.2" r="1.85"/>
<circle cx="405.3" cy="490.3" r="1.85"/>
<circle cx="401.9" cy="477.4" r="1.85"/>
<circle cx="402.5" cy="492.3" r="1.85"/>
<circle cx="402.0" cy="493.6" r="1.85"/>
<circle cx="403.0" cy="501.8" r="1.85"/>
<circle cx="404.9" cy="502.8" r="1.85"/>
<circle cx="402.9" cy="488.8" r="1.85"/>
<circle cx="403.4" cy="497.0" r="1.85"/>
<circle cx="403.8" cy="460.0" r="1.85"/>
<circle cx="404.7" cy="470.1" r="1.85"/>
<circle cx="402.8" cy="468.6" r="1.85"/>
<circle cx="404.7" cy="480.6" r="1.85"/>
<circle cx="402.1" cy="478.1" r="1.85"/>
<circle cx="402.0" cy="474.3" r="1.85"/>
<circle cx="402.5" cy="484.0" r="1.85"/>
<circle cx="401.4" cy="487.6" r="1.85"/>
</g>
<path d="M403.4 435.0V469.3M403.4 497.4V515.5" stroke="#000" stroke-width="1.10" fill="none"/>
<rect x="394.7" y="469.3" width="17.4" height="28.1" fill="none" stroke="#b21a45" stroke-width="1.25"/>
<path d="M394.7 482.2H412.1" stroke="#b21a45" stroke-width="1.25"/>
<g fill="#000" fill-opacity="0.32">
<circle cx="440.8" cy="489.3" r="1.85"/>
<circle cx="438.7" cy="499.8" r="1.85"/>
<circle cx="436.8" cy="484.6" r="1.85"/>
<circle cx="440.9" cy="496.2" r="1.85"/>
<circle cx="441.4" cy="484.0" r="1.85"/>
<circle cx="439.0" cy="492.1" r="1.85"/>
<circle cx="436.9" cy="485.8" r="1.85"/>
<circle cx="440.0" cy="465.6" r="1.85"/>
<circle cx="437.8" cy="490.4" r="1.85"/>
<circle cx="439.8" cy="465.0" r="1.85"/>
<circle cx="438.3" cy="494.7" r="1.85"/>
<circle cx="440.1" cy="490.9" r="1.85"/>
<circle cx="437.9" cy="466.7" r="1.85"/>
<circle cx="436.6" cy="492.8" r="1.85"/>
<circle cx="438.3" cy="493.0" r="1.85"/>
<circle cx="437.9" cy="472.7" r="1.85"/>
<circle cx="441.4" cy="484.1" r="1.85"/>
<circle cx="437.8" cy="480.9" r="1.85"/>
<circle cx="441.1" cy="491.1" r="1.85"/>
<circle cx="439.5" cy="471.0" r="1.85"/>
<circle cx="438.3" cy="468.8" r="1.85"/>
<circle cx="439.7" cy="467.8" r="1.85"/>
<circle cx="438.4" cy="497.1" r="1.85"/>
<circle cx="439.4" cy="496.5" r="1.85"/>
<circle cx="438.6" cy="464.6" r="1.85"/>
<circle cx="437.2" cy="493.5" r="1.85"/>
<circle cx="437.0" cy="476.3" r="1.85"/>
<circle cx="436.4" cy="477.9" r="1.85"/>
<circle cx="438.3" cy="476.6" r="1.85"/>
<circle cx="438.7" cy="467.3" r="1.85"/>
<circle cx="437.9" cy="502.5" r="1.85"/>
<circle cx="438.5" cy="503.8" r="1.85"/>
<circle cx="436.6" cy="495.6" r="1.85"/>
<circle cx="440.5" cy="483.6" r="1.85"/>
<circle cx="440.7" cy="478.5" r="1.85"/>
<circle cx="436.1" cy="494.1" r="1.85"/>
<circle cx="440.9" cy="477.2" r="1.85"/>
<circle cx="440.6" cy="479.5" r="1.85"/>
<circle cx="436.9" cy="480.7" r="1.85"/>
<circle cx="439.8" cy="474.6" r="1.85"/>
<circle cx="438.5" cy="483.1" r="1.85"/>
<circle cx="440.4" cy="491.8" r="1.85"/>
<circle cx="437.7" cy="463.8" r="1.85"/>
<circle cx="439.8" cy="488.6" r="1.85"/>
<circle cx="440.9" cy="482.3" r="1.85"/>
<circle cx="437.4" cy="473.6" r="1.85"/>
<circle cx="439.1" cy="497.9" r="1.85"/>
<circle cx="436.9" cy="488.2" r="1.85"/>
<circle cx="439.7" cy="486.2" r="1.85"/>
<circle cx="437.5" cy="482.1" r="1.85"/>
<circle cx="438.7" cy="479.3" r="1.85"/>
<circle cx="436.4" cy="481.6" r="1.85"/>
<circle cx="439.9" cy="485.3" r="1.85"/>
<circle cx="438.1" cy="488.1" r="1.85"/>
<circle cx="441.1" cy="493.9" r="1.85"/>
<circle cx="438.5" cy="486.4" r="1.85"/>
<circle cx="438.6" cy="478.7" r="1.85"/>
<circle cx="437.1" cy="493.3" r="1.85"/>
<circle cx="439.4" cy="474.7" r="1.85"/>
<circle cx="437.1" cy="496.9" r="1.85"/>
<circle cx="438.6" cy="495.5" r="1.85"/>
<circle cx="440.8" cy="478.2" r="1.85"/>
<circle cx="439.7" cy="501.0" r="1.85"/>
<circle cx="439.6" cy="475.2" r="1.85"/>
<circle cx="438.6" cy="498.4" r="1.85"/>
<circle cx="438.5" cy="469.4" r="1.85"/>
<circle cx="437.6" cy="497.8" r="1.85"/>
<circle cx="439.8" cy="491.5" r="1.85"/>
<circle cx="438.9" cy="483.3" r="1.85"/>
<circle cx="438.3" cy="499.1" r="1.85"/>
<circle cx="438.4" cy="500.3" r="1.85"/>
<circle cx="439.7" cy="463.6" r="1.85"/>
<circle cx="439.6" cy="501.9" r="1.85"/>
<circle cx="438.4" cy="505.7" r="1.85"/>
<circle cx="436.1" cy="490.1" r="1.85"/>
<circle cx="438.1" cy="476.0" r="1.85"/>
<circle cx="437.8" cy="489.7" r="1.85"/>
<circle cx="440.1" cy="479.0" r="1.85"/>
<circle cx="437.8" cy="471.7" r="1.85"/>
<circle cx="438.2" cy="485.6" r="1.85"/>
<circle cx="440.9" cy="480.2" r="1.85"/>
<circle cx="437.2" cy="489.6" r="1.85"/>
<circle cx="436.8" cy="479.9" r="1.85"/>
<circle cx="440.4" cy="486.8" r="1.85"/>
<circle cx="438.7" cy="503.2" r="1.85"/>
<circle cx="438.5" cy="492.3" r="1.85"/>
<circle cx="440.0" cy="468.1" r="1.85"/>
<circle cx="439.4" cy="487.7" r="1.85"/>
<circle cx="439.7" cy="473.2" r="1.85"/>
<circle cx="438.9" cy="470.1" r="1.85"/>
<circle cx="441.0" cy="494.6" r="1.85"/>
<circle cx="437.1" cy="484.9" r="1.85"/>
<circle cx="441.0" cy="481.8" r="1.85"/>
<circle cx="436.2" cy="488.8" r="1.85"/>
<circle cx="436.8" cy="495.0" r="1.85"/>
<circle cx="439.0" cy="477.3" r="1.85"/>
<circle cx="441.0" cy="481.1" r="1.85"/>
<circle cx="437.1" cy="487.2" r="1.85"/>
<circle cx="437.1" cy="482.6" r="1.85"/>
<circle cx="439.4" cy="487.1" r="1.85"/>
</g>
<path d="M438.8 463.1V476.5M438.8 491.4V506.0" stroke="#000" stroke-width="1.10" fill="none"/>
<rect x="430.1" y="476.5" width="17.4" height="14.9" fill="none" stroke="#b21a45" stroke-width="1.25"/>
<path d="M430.1 485.4H447.5" stroke="#b21a45" stroke-width="1.25"/>
<g fill="#000" fill-opacity="0.32">
<circle cx="473.6" cy="487.1" r="1.85"/>
<circle cx="475.1" cy="486.8" r="1.85"/>
<circle cx="471.8" cy="489.8" r="1.85"/>
<circle cx="472.8" cy="486.1" r="1.85"/>
<circle cx="473.1" cy="509.8" r="1.85"/>
<circle cx="474.6" cy="508.4" r="1.85"/>
<circle cx="477.0" cy="505.2" r="1.85"/>
<circle cx="474.1" cy="477.3" r="1.85"/>
<circle cx="475.1" cy="490.4" r="1.85"/>
<circle cx="475.4" cy="479.5" r="1.85"/>
<circle cx="475.1" cy="513.5" r="1.85"/>
<circle cx="476.6" cy="498.8" r="1.85"/>
<circle cx="474.0" cy="490.2" r="1.85"/>
<circle cx="471.9" cy="495.6" r="1.85"/>
<circle cx="471.7" cy="502.9" r="1.85"/>
<circle cx="474.4" cy="494.6" r="1.85"/>
<circle cx="473.0" cy="492.1" r="1.85"/>
<circle cx="474.3" cy="498.2" r="1.85"/>
<circle cx="475.2" cy="507.3" r="1.85"/>
<circle cx="473.1" cy="490.8" r="1.85"/>
<circle cx="473.9" cy="483.7" r="1.85"/>
<circle cx="476.7" cy="491.5" r="1.85"/>
<circle cx="474.3" cy="496.8" r="1.85"/>
<circle cx="474.6" cy="471.0" r="1.85"/>
<circle cx="475.1" cy="499.4" r="1.85"/>
<circle cx="472.9" cy="511.2" r="1.85"/>
<circle cx="472.8" cy="502.4" r="1.85"/>
<circle cx="472.7" cy="493.5" r="1.85"/>
<circle cx="475.1" cy="477.0" r="1.85"/>
<circle cx="474.8" cy="514.7" r="1.85"/>
<circle cx="476.4" cy="485.9" r="1.85"/>
<circle cx="472.9" cy="492.9" r="1.85"/>
<circle cx="473.0" cy="493.1" r="1.85"/>
<circle cx="474.0" cy="487.9" r="1.85"/>
<circle cx="473.0" cy="491.9" r="1.85"/>
<circle cx="474.7" cy="512.4" r="1.85"/>
<circle cx="473.0" cy="493.4" r="1.85"/>
<circle cx="472.7" cy="506.6" r="1.85"/>
<circle cx="472.9" cy="505.4" r="1.85"/>
<circle cx="475.3" cy="495.8" r="1.85"/>
<circle cx="474.4" cy="491.4" r="1.85"/>
<circle cx="475.2" cy="484.1" r="1.85"/>
<circle cx="473.7" cy="481.1" r="1.85"/>
<circle cx="475.0" cy="484.8" r="1.85"/>
<circle cx="474.5" cy="496.5" r="1.85"/>
<circle cx="474.2" cy="466.6" r="1.85"/>
<circle cx="474.7" cy="476.3" r="1.85"/>
<circle cx="472.9" cy="511.0" r="1.85"/>
<circle cx="474.4" cy="488.6" r="1.85"/>
<circle cx="474.7" cy="478.7" r="1.85"/>
<circle cx="474.4" cy="503.2" r="1.85"/>
<circle cx="475.5" cy="504.6" r="1.85"/>
<circle cx="473.5" cy="510.0" r="1.85"/>
<circle cx="474.9" cy="473.3" r="1.85"/>
<circle cx="476.2" cy="489.4" r="1.85"/>
<circle cx="474.5" cy="485.3" r="1.85"/>
<circle cx="472.6" cy="491.0" r="1.85"/>
<circle cx="474.4" cy="487.5" r="1.85"/>
<circle cx="474.3" cy="501.8" r="1.85"/>
<circle cx="473.7" cy="481.3" r="1.85"/>
<circle cx="473.7" cy="500.3" r="1.85"/>
<circle cx="476.9" cy="499.1" r="1.85"/>
<circle cx="474.5" cy="499.6" r="1.85"/>
<circle cx="476.0" cy="501.9" r="1.85"/>
<circle cx="474.2" cy="504.9" r="1.85"/>
<circle cx="475.1" cy="509.0" r="1.85"/>
<circle cx="473.6" cy="498.0" r="1.85"/>
<circle cx="475.9" cy="505.9" r="1.85"/>
<circle cx="473.5" cy="485.0" r="1.85"/>
<circle cx="476.0" cy="510.9" r="1.85"/>
<circle cx="474.9" cy="500.8" r="1.85"/>
<circle cx="473.6" cy="507.4" r="1.85"/>
<circle cx="474.5" cy="494.0" r="1.85"/>
<circle cx="472.2" cy="508.0" r="1.85"/>
<circle cx="477.0" cy="504.3" r="1.85"/>
<circle cx="473.5" cy="497.3" r="1.85"/>
<circle cx="474.9" cy="480.4" r="1.85"/>
<circle cx="472.1" cy="497.5" r="1.85"/>
<circle cx="474.8" cy="474.5" r="1.85"/>
<circle cx="475.4" cy="494.6" r="1.85"/>
<circle cx="476.4" cy="495.0" r="1.85"/>
<circle cx="474.8" cy="464.8" r="1.85"/>
<circle cx="475.5" cy="492.5" r="1.85"/>
<circle cx="474.4" cy="515.8" r="1.85"/>
<circle cx="473.1" cy="511.7" r="1.85"/>
<circle cx="473.3" cy="512.9" r="1.85"/>
<circle cx="472.0" cy="507.8" r="1.85"/>
<circle cx="473.3" cy="500.6" r="1.85"/>
<circle cx="474.4" cy="504.1" r="1.85"/>
<circle cx="472.7" cy="503.8" r="1.85"/>
<circle cx="475.9" cy="502.6" r="1.85"/>
<circle cx="474.2" cy="509.5" r="1.85"/>
<circle cx="473.7" cy="483.1" r="1.85"/>
<circle cx="472.1" cy="488.1" r="1.85"/>
<circle cx="474.7" cy="507.0" r="1.85"/>
<circle cx="472.4" cy="506.5" r="1.85"/>
<circle cx="473.8" cy="486.5" r="1.85"/>
<circle cx="472.9" cy="496.3" r="1.85"/>
<circle cx="475.3" cy="482.5" r="1.85"/>
<circle cx="473.3" cy="508.7" r="1.85"/>
<circle cx="473.2" cy="514.0" r="1.85"/>
<circle cx="473.8" cy="512.3" r="1.85"/>
<circle cx="473.7" cy="489.0" r="1.85"/>
<circle cx="472.4" cy="499.9" r="1.85"/>
<circle cx="472.3" cy="494.3" r="1.85"/>
<circle cx="474.3" cy="469.7" r="1.85"/>
<circle cx="474.5" cy="489.2" r="1.85"/>
<circle cx="476.8" cy="488.3" r="1.85"/>
<circle cx="476.1" cy="509.3" r="1.85"/>
<circle cx="474.3" cy="503.5" r="1.85"/>
<circle cx="473.5" cy="501.1" r="1.85"/>
<circle cx="473.7" cy="495.3" r="1.85"/>
<circle cx="471.9" cy="497.1" r="1.85"/>
<circle cx="474.5" cy="498.6" r="1.85"/>
<circle cx="474.7" cy="467.6" r="1.85"/>
<circle cx="475.2" cy="482.0" r="1.85"/>
<circle cx="472.0" cy="501.5" r="1.85"/>
<circle cx="474.3" cy="472.9" r="1.85"/>
<circle cx="473.5" cy="506.0" r="1.85"/>
<circle cx="476.0" cy="510.5" r="1.85"/>
</g>
<path d="M474.4 463.7V486.3M474.4 503.7V516.3" stroke="#000" stroke-width="1.10" fill="none"/>
<rect x="465.7" y="486.3" width="17.4" height="17.4" fill="none" stroke="#b21a45" stroke-width="1.25"/>
<path d="M465.7 496.0H483.1" stroke="#b21a45" stroke-width="1.25"/>
<rect x="382.3" y="347.3" width="113.4" height="178.5" fill="none" stroke="#1a1a1a" stroke-width="1.3"/>
<text x="439.0" y="365.2" font-size="8.05" text-anchor="middle" fill="#000" >Anova, p = 4.3e−08</text>
<path d="M439.0 389.0V384.5H474.5V389.0" fill="none" stroke="#1a1a1a" stroke-width="1.1"/>
<text x="456.8" y="385.1" font-size="8.20" text-anchor="middle" fill="#000" font-weight="bold" class="ng">****</text>
<path d="M403.4 525.8V528.8" stroke="#1a1a1a" stroke-width="1"/>
<path d="M439.0 525.8V528.8" stroke="#1a1a1a" stroke-width="1"/>
<path d="M474.5 525.8V528.8" stroke="#1a1a1a" stroke-width="1"/>
<path d="M56.8 517.8H59.8" stroke="#1a1a1a" stroke-width="1"/>
<text x="53.3" y="521.0" font-size="9.00" text-anchor="end" fill="#333" >0.00</text>
<path d="M56.8 484.3H59.8" stroke="#1a1a1a" stroke-width="1"/>
<text x="53.3" y="487.5" font-size="9.00" text-anchor="end" fill="#333" >0.05</text>
<path d="M56.8 450.8H59.8" stroke="#1a1a1a" stroke-width="1"/>
<text x="53.3" y="454.0" font-size="9.00" text-anchor="end" fill="#333" >0.10</text>
<path d="M56.8 417.4H59.8" stroke="#1a1a1a" stroke-width="1"/>
<text x="53.3" y="420.6" font-size="9.00" text-anchor="end" fill="#333" >0.15</text>
<path d="M56.8 383.9H59.8" stroke="#1a1a1a" stroke-width="1"/>
<text x="53.3" y="387.1" font-size="9.00" text-anchor="end" fill="#333" >0.20</text>
<path d="M56.8 350.4H59.8" stroke="#1a1a1a" stroke-width="1"/>
<text x="53.3" y="353.6" font-size="9.00" text-anchor="end" fill="#333" >0.25</text>
<text x="0" y="0" font-size="11" font-weight="bold" text-anchor="middle" fill="#000" class="ng" transform="translate(30.9 436.5) rotate(-90) scale(0.61 1)">BC</text>
<text x="0" y="0" font-size="8.3" text-anchor="end" fill="#1a1a1a" transform="translate(84.4 536.4) rotate(-45)">Within experiment</text>
<text x="0" y="0" font-size="8.3" text-anchor="end" fill="#1a1a1a" transform="translate(119.8 536.4) rotate(-45)">Across local experiments</text>
<text x="0" y="0" font-size="8.3" text-anchor="end" fill="#1a1a1a" transform="translate(155.2 536.4) rotate(-45)">Across sites</text>
<text x="0" y="0" font-size="8.3" text-anchor="end" fill="#1a1a1a" transform="translate(203.8 536.4) rotate(-45)">Within experiment</text>
<text x="0" y="0" font-size="8.3" text-anchor="end" fill="#1a1a1a" transform="translate(239.2 536.4) rotate(-45)">Across local experiments</text>
<text x="0" y="0" font-size="8.3" text-anchor="end" fill="#1a1a1a" transform="translate(287.5 536.4) rotate(-45)">Within experiment</text>
<text x="0" y="0" font-size="8.3" text-anchor="end" fill="#1a1a1a" transform="translate(323.1 536.4) rotate(-45)">Across local experiments</text>
<text x="0" y="0" font-size="8.3" text-anchor="end" fill="#1a1a1a" transform="translate(358.3 536.4) rotate(-45)">Across sites</text>
<text x="0" y="0" font-size="8.3" text-anchor="end" fill="#1a1a1a" transform="translate(406.7 536.4) rotate(-45)">Within experiment</text>
<text x="0" y="0" font-size="8.3" text-anchor="end" fill="#1a1a1a" transform="translate(442.3 536.4) rotate(-45)">Across local experiments</text>
<text x="0" y="0" font-size="8.3" text-anchor="end" fill="#1a1a1a" transform="translate(477.8 536.4) rotate(-45)">Across sites</text>
<text x="160.5" y="618.2" font-size="7.60" text-anchor="start" fill="#000" >T test:</text>
<text x="160.1" y="628.3" font-size="7.6" fill="#000" font-weight="bold" textLength="10.7" lengthAdjust="spacingAndGlyphs">****</text><text x="171.8" y="628.0" font-size="8" fill="#000">:</text><text x="176.6" y="628.0" font-size="8" font-style="italic" fill="#000">P</text><text x="184.1" y="628.0" font-size="8" fill="#777" class="ng">≤</text><text x="188.7" y="628.0" font-size="8" fill="#000" textLength="23.6" lengthAdjust="spacingAndGlyphs">0.0001</text><text x="212.8" y="628.0" font-size="8" fill="#000">;</text><text x="219.9" y="628.3" font-size="7.6" fill="#000" font-weight="bold" textLength="7.8" lengthAdjust="spacingAndGlyphs">***</text><text x="228.6" y="628.0" font-size="8" fill="#000">:</text><text x="232.6" y="628.0" font-size="8" font-style="italic" fill="#000">P</text><text x="239.6" y="628.0" font-size="8" fill="#777" class="ng">≤</text><text x="244.2" y="628.0" font-size="8" fill="#000" textLength="20.6" lengthAdjust="spacingAndGlyphs">0.001</text><text x="265.4" y="628.0" font-size="8" fill="#000">;</text><text x="271.3" y="628.3" font-size="7.6" fill="#000" font-weight="bold" textLength="4.2" lengthAdjust="spacingAndGlyphs">**</text><text x="276.8" y="628.0" font-size="8" fill="#000">:</text><text x="281.0" y="628.0" font-size="8" font-style="italic" fill="#000">P</text><text x="287.5" y="628.0" font-size="8" fill="#777" class="ng">≤</text><text x="291.8" y="628.0" font-size="8" fill="#000" textLength="14.6" lengthAdjust="spacingAndGlyphs">0.01</text><text x="307.2" y="628.0" font-size="8" fill="#000">;</text><text x="312.4" y="628.3" font-size="7.6" fill="#000" font-weight="bold">*</text><text x="315.9" y="628.0" font-size="8" fill="#000">:</text><text x="320.1" y="628.0" font-size="8" font-style="italic" fill="#000">P</text><text x="327.9" y="628.0" font-size="8" fill="#777" class="ng">≤</text><text x="331.8" y="628.0" font-size="8" fill="#000" textLength="16.4" lengthAdjust="spacingAndGlyphs">0.05</text><text x="348.6" y="628.0" font-size="8" fill="#000">;</text><text x="351.3" y="628.0" font-size="8" fill="#000" textLength="9.2" lengthAdjust="spacingAndGlyphs">ns</text><text x="361.4" y="628.0" font-size="8" fill="#000">:</text><text x="365.7" y="628.0" font-size="8" font-style="italic" fill="#000">P</text><text x="372.9" y="628.0" font-size="8" fill="#000" textLength="4.2" lengthAdjust="spacingAndGlyphs">&gt;</text><text x="379.1" y="628.0" font-size="8" fill="#000" textLength="16.0" lengthAdjust="spacingAndGlyphs">0.05</text>
<path d="M0.5 0V638M0 0.5H520" stroke="#000" stroke-width="1.1"/>
<path d="M519.2 0V638" stroke="#000" stroke-width="1.6"/><path d="M0 637.05H520" stroke="#000" stroke-width="1.9"/>
</svg></div></body></html>
